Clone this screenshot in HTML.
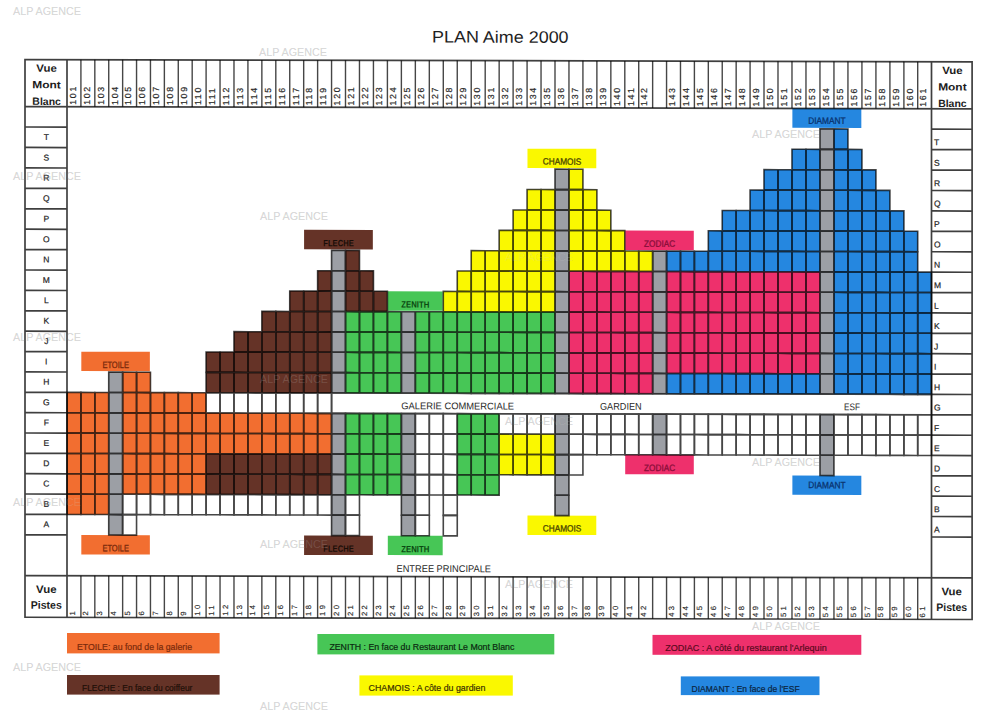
<!DOCTYPE html><html><head><meta charset="utf-8"><style>html,body{margin:0;padding:0;background:#fff;overflow:hidden;width:1000px;height:711px;}svg{display:block;}text{font-family:"Liberation Sans",sans-serif;}</style></head><body>
<svg width="1000" height="711" viewBox="0 0 1000 711">
<rect x="0" y="0" width="1000" height="711" fill="#ffffff"/>
<text x="13" y="15" font-size="10.6" fill="#dadada" textLength="68" lengthAdjust="spacingAndGlyphs">ALP AGENCE</text>
<text x="259" y="56" font-size="10.6" fill="#dadada" textLength="68" lengthAdjust="spacingAndGlyphs">ALP AGENCE</text>
<text x="13" y="180" font-size="10.6" fill="#dadada" textLength="68" lengthAdjust="spacingAndGlyphs">ALP AGENCE</text>
<text x="260" y="220" font-size="10.6" fill="#dadada" textLength="68" lengthAdjust="spacingAndGlyphs">ALP AGENCE</text>
<text x="752" y="138" font-size="10.6" fill="#dadada" textLength="68" lengthAdjust="spacingAndGlyphs">ALP AGENCE</text>
<text x="13" y="341" font-size="10.6" fill="#dadada" textLength="68" lengthAdjust="spacingAndGlyphs">ALP AGENCE</text>
<text x="260" y="383" font-size="10.6" fill="#dadada" textLength="68" lengthAdjust="spacingAndGlyphs">ALP AGENCE</text>
<text x="505" y="261" font-size="10.6" fill="#dadada" textLength="68" lengthAdjust="spacingAndGlyphs">ALP AGENCE</text>
<text x="13" y="506" font-size="10.6" fill="#dadada" textLength="68" lengthAdjust="spacingAndGlyphs">ALP AGENCE</text>
<text x="260" y="548" font-size="10.6" fill="#dadada" textLength="68" lengthAdjust="spacingAndGlyphs">ALP AGENCE</text>
<text x="752" y="466" font-size="10.6" fill="#dadada" textLength="68" lengthAdjust="spacingAndGlyphs">ALP AGENCE</text>
<text x="505" y="588" font-size="10.6" fill="#dadada" textLength="68" lengthAdjust="spacingAndGlyphs">ALP AGENCE</text>
<text x="752" y="630" font-size="10.6" fill="#dadada" textLength="68" lengthAdjust="spacingAndGlyphs">ALP AGENCE</text>
<text x="13" y="671" font-size="10.6" fill="#dadada" textLength="68" lengthAdjust="spacingAndGlyphs">ALP AGENCE</text>
<text x="260" y="710" font-size="10.6" fill="#dadada" textLength="68" lengthAdjust="spacingAndGlyphs">ALP AGENCE</text>
<text x="505" y="425" font-size="10.6" fill="#dadada" textLength="68" lengthAdjust="spacingAndGlyphs">ALP AGENCE</text>
<g transform="skewY(0.1347)">
<text x="500.3" y="41.5" font-size="16.6" fill="#1f1f1f" text-anchor="middle" textLength="136.6" lengthAdjust="spacingAndGlyphs">PLAN Aime 2000</text>
<rect x="819.96" y="126.95" width="13.99" height="20.45" fill="#9C9FA5"/>
<rect x="833.95" y="126.95" width="13.99" height="20.45" fill="#2587E0"/>
<rect x="791.98" y="147.40" width="13.99" height="20.45" fill="#2587E0"/>
<rect x="805.97" y="147.40" width="13.99" height="20.45" fill="#2587E0"/>
<rect x="819.96" y="147.40" width="13.99" height="20.45" fill="#9C9FA5"/>
<rect x="833.95" y="147.40" width="13.99" height="20.45" fill="#2587E0"/>
<rect x="847.94" y="147.40" width="13.99" height="20.45" fill="#2587E0"/>
<rect x="555.00" y="167.85" width="13.96" height="20.45" fill="#9C9FA5"/>
<rect x="568.96" y="167.85" width="13.96" height="20.45" fill="#FAF800"/>
<rect x="764.00" y="167.85" width="13.99" height="20.45" fill="#2587E0"/>
<rect x="777.99" y="167.85" width="13.99" height="20.45" fill="#2587E0"/>
<rect x="791.98" y="167.85" width="13.99" height="20.45" fill="#2587E0"/>
<rect x="805.97" y="167.85" width="13.99" height="20.45" fill="#2587E0"/>
<rect x="819.96" y="167.85" width="13.99" height="20.45" fill="#9C9FA5"/>
<rect x="833.95" y="167.85" width="13.99" height="20.45" fill="#2587E0"/>
<rect x="847.94" y="167.85" width="13.99" height="20.45" fill="#2587E0"/>
<rect x="861.93" y="167.85" width="13.99" height="20.45" fill="#2587E0"/>
<rect x="527.08" y="188.30" width="13.96" height="20.45" fill="#FAF800"/>
<rect x="541.04" y="188.30" width="13.96" height="20.45" fill="#FAF800"/>
<rect x="555.00" y="188.30" width="13.96" height="20.45" fill="#9C9FA5"/>
<rect x="568.96" y="188.30" width="13.96" height="20.45" fill="#FAF800"/>
<rect x="582.92" y="188.30" width="13.96" height="20.45" fill="#FAF800"/>
<rect x="750.08" y="188.30" width="13.92" height="20.45" fill="#2587E0"/>
<rect x="764.00" y="188.30" width="13.99" height="20.45" fill="#2587E0"/>
<rect x="777.99" y="188.30" width="13.99" height="20.45" fill="#2587E0"/>
<rect x="791.98" y="188.30" width="13.99" height="20.45" fill="#2587E0"/>
<rect x="805.97" y="188.30" width="13.99" height="20.45" fill="#2587E0"/>
<rect x="819.96" y="188.30" width="13.99" height="20.45" fill="#9C9FA5"/>
<rect x="833.95" y="188.30" width="13.99" height="20.45" fill="#2587E0"/>
<rect x="847.94" y="188.30" width="13.99" height="20.45" fill="#2587E0"/>
<rect x="861.93" y="188.30" width="13.99" height="20.45" fill="#2587E0"/>
<rect x="875.92" y="188.30" width="13.99" height="20.45" fill="#2587E0"/>
<rect x="513.12" y="208.75" width="13.96" height="20.40" fill="#FAF800"/>
<rect x="527.08" y="208.75" width="13.96" height="20.40" fill="#FAF800"/>
<rect x="541.04" y="208.75" width="13.96" height="20.40" fill="#FAF800"/>
<rect x="555.00" y="208.75" width="13.96" height="20.40" fill="#9C9FA5"/>
<rect x="568.96" y="208.75" width="13.96" height="20.40" fill="#FAF800"/>
<rect x="582.92" y="208.75" width="13.96" height="20.40" fill="#FAF800"/>
<rect x="596.88" y="208.75" width="13.96" height="20.40" fill="#FAF800"/>
<rect x="722.24" y="208.75" width="13.92" height="20.40" fill="#2587E0"/>
<rect x="736.16" y="208.75" width="13.92" height="20.40" fill="#2587E0"/>
<rect x="750.08" y="208.75" width="13.92" height="20.40" fill="#2587E0"/>
<rect x="764.00" y="208.75" width="13.99" height="20.40" fill="#2587E0"/>
<rect x="777.99" y="208.75" width="13.99" height="20.40" fill="#2587E0"/>
<rect x="791.98" y="208.75" width="13.99" height="20.40" fill="#2587E0"/>
<rect x="805.97" y="208.75" width="13.99" height="20.40" fill="#2587E0"/>
<rect x="819.96" y="208.75" width="13.99" height="20.40" fill="#9C9FA5"/>
<rect x="833.95" y="208.75" width="13.99" height="20.40" fill="#2587E0"/>
<rect x="847.94" y="208.75" width="13.99" height="20.40" fill="#2587E0"/>
<rect x="861.93" y="208.75" width="13.99" height="20.40" fill="#2587E0"/>
<rect x="875.92" y="208.75" width="13.99" height="20.40" fill="#2587E0"/>
<rect x="889.91" y="208.75" width="13.99" height="20.40" fill="#2587E0"/>
<rect x="499.16" y="229.15" width="13.96" height="20.40" fill="#FAF800"/>
<rect x="513.12" y="229.15" width="13.96" height="20.40" fill="#FAF800"/>
<rect x="527.08" y="229.15" width="13.96" height="20.40" fill="#FAF800"/>
<rect x="541.04" y="229.15" width="13.96" height="20.40" fill="#FAF800"/>
<rect x="555.00" y="229.15" width="13.96" height="20.40" fill="#9C9FA5"/>
<rect x="568.96" y="229.15" width="13.96" height="20.40" fill="#FAF800"/>
<rect x="582.92" y="229.15" width="13.96" height="20.40" fill="#FAF800"/>
<rect x="596.88" y="229.15" width="13.96" height="20.40" fill="#FAF800"/>
<rect x="610.84" y="229.15" width="13.96" height="20.40" fill="#FAF800"/>
<rect x="708.32" y="229.15" width="13.92" height="20.40" fill="#2587E0"/>
<rect x="722.24" y="229.15" width="13.92" height="20.40" fill="#2587E0"/>
<rect x="736.16" y="229.15" width="13.92" height="20.40" fill="#2587E0"/>
<rect x="750.08" y="229.15" width="13.92" height="20.40" fill="#2587E0"/>
<rect x="764.00" y="229.15" width="13.99" height="20.40" fill="#2587E0"/>
<rect x="777.99" y="229.15" width="13.99" height="20.40" fill="#2587E0"/>
<rect x="791.98" y="229.15" width="13.99" height="20.40" fill="#2587E0"/>
<rect x="805.97" y="229.15" width="13.99" height="20.40" fill="#2587E0"/>
<rect x="819.96" y="229.15" width="13.99" height="20.40" fill="#9C9FA5"/>
<rect x="833.95" y="229.15" width="13.99" height="20.40" fill="#2587E0"/>
<rect x="847.94" y="229.15" width="13.99" height="20.40" fill="#2587E0"/>
<rect x="861.93" y="229.15" width="13.99" height="20.40" fill="#2587E0"/>
<rect x="875.92" y="229.15" width="13.99" height="20.40" fill="#2587E0"/>
<rect x="889.91" y="229.15" width="13.99" height="20.40" fill="#2587E0"/>
<rect x="903.90" y="229.15" width="13.80" height="20.40" fill="#2587E0"/>
<rect x="331.56" y="249.55" width="13.94" height="20.40" fill="#9C9FA5"/>
<rect x="345.50" y="249.55" width="13.97" height="20.40" fill="#653327"/>
<rect x="471.23" y="249.55" width="13.97" height="20.40" fill="#FAF800"/>
<rect x="485.20" y="249.55" width="13.96" height="20.40" fill="#FAF800"/>
<rect x="499.16" y="249.55" width="13.96" height="20.40" fill="#FAF800"/>
<rect x="513.12" y="249.55" width="13.96" height="20.40" fill="#FAF800"/>
<rect x="527.08" y="249.55" width="13.96" height="20.40" fill="#FAF800"/>
<rect x="541.04" y="249.55" width="13.96" height="20.40" fill="#FAF800"/>
<rect x="555.00" y="249.55" width="13.96" height="20.40" fill="#9C9FA5"/>
<rect x="568.96" y="249.55" width="13.96" height="20.40" fill="#FAF800"/>
<rect x="582.92" y="249.55" width="13.96" height="20.40" fill="#FAF800"/>
<rect x="596.88" y="249.55" width="13.96" height="20.40" fill="#FAF800"/>
<rect x="610.84" y="249.55" width="13.96" height="20.40" fill="#FAF800"/>
<rect x="624.80" y="249.55" width="13.92" height="20.40" fill="#FAF800"/>
<rect x="638.72" y="249.55" width="13.92" height="20.40" fill="#FAF800"/>
<rect x="652.64" y="249.55" width="13.92" height="20.40" fill="#9C9FA5"/>
<rect x="666.56" y="249.55" width="13.92" height="20.40" fill="#2587E0"/>
<rect x="680.48" y="249.55" width="13.92" height="20.40" fill="#2587E0"/>
<rect x="694.40" y="249.55" width="13.92" height="20.40" fill="#2587E0"/>
<rect x="708.32" y="249.55" width="13.92" height="20.40" fill="#2587E0"/>
<rect x="722.24" y="249.55" width="13.92" height="20.40" fill="#2587E0"/>
<rect x="736.16" y="249.55" width="13.92" height="20.40" fill="#2587E0"/>
<rect x="750.08" y="249.55" width="13.92" height="20.40" fill="#2587E0"/>
<rect x="764.00" y="249.55" width="13.99" height="20.40" fill="#2587E0"/>
<rect x="777.99" y="249.55" width="13.99" height="20.40" fill="#2587E0"/>
<rect x="791.98" y="249.55" width="13.99" height="20.40" fill="#2587E0"/>
<rect x="805.97" y="249.55" width="13.99" height="20.40" fill="#2587E0"/>
<rect x="819.96" y="249.55" width="13.99" height="20.40" fill="#9C9FA5"/>
<rect x="833.95" y="249.55" width="13.99" height="20.40" fill="#2587E0"/>
<rect x="847.94" y="249.55" width="13.99" height="20.40" fill="#2587E0"/>
<rect x="861.93" y="249.55" width="13.99" height="20.40" fill="#2587E0"/>
<rect x="875.92" y="249.55" width="13.99" height="20.40" fill="#2587E0"/>
<rect x="889.91" y="249.55" width="13.99" height="20.40" fill="#2587E0"/>
<rect x="903.90" y="249.55" width="13.80" height="20.40" fill="#2587E0"/>
<rect x="317.62" y="269.95" width="13.94" height="20.40" fill="#653327"/>
<rect x="331.56" y="269.95" width="13.94" height="20.40" fill="#9C9FA5"/>
<rect x="345.50" y="269.95" width="13.97" height="20.40" fill="#653327"/>
<rect x="359.47" y="269.95" width="13.97" height="20.40" fill="#653327"/>
<rect x="457.26" y="269.95" width="13.97" height="20.40" fill="#FAF800"/>
<rect x="471.23" y="269.95" width="13.97" height="20.40" fill="#FAF800"/>
<rect x="485.20" y="269.95" width="13.96" height="20.40" fill="#FAF800"/>
<rect x="499.16" y="269.95" width="13.96" height="20.40" fill="#FAF800"/>
<rect x="513.12" y="269.95" width="13.96" height="20.40" fill="#FAF800"/>
<rect x="527.08" y="269.95" width="13.96" height="20.40" fill="#FAF800"/>
<rect x="541.04" y="269.95" width="13.96" height="20.40" fill="#FAF800"/>
<rect x="555.00" y="269.95" width="13.96" height="20.40" fill="#9C9FA5"/>
<rect x="568.96" y="269.95" width="13.96" height="20.40" fill="#EE306C"/>
<rect x="582.92" y="269.95" width="13.96" height="20.40" fill="#EE306C"/>
<rect x="596.88" y="269.95" width="13.96" height="20.40" fill="#EE306C"/>
<rect x="610.84" y="269.95" width="13.96" height="20.40" fill="#EE306C"/>
<rect x="624.80" y="269.95" width="13.92" height="20.40" fill="#EE306C"/>
<rect x="638.72" y="269.95" width="13.92" height="20.40" fill="#EE306C"/>
<rect x="652.64" y="269.95" width="13.92" height="20.40" fill="#9C9FA5"/>
<rect x="666.56" y="269.95" width="13.92" height="20.40" fill="#EE306C"/>
<rect x="680.48" y="269.95" width="13.92" height="20.40" fill="#EE306C"/>
<rect x="694.40" y="269.95" width="13.92" height="20.40" fill="#EE306C"/>
<rect x="708.32" y="269.95" width="13.92" height="20.40" fill="#EE306C"/>
<rect x="722.24" y="269.95" width="13.92" height="20.40" fill="#EE306C"/>
<rect x="736.16" y="269.95" width="13.92" height="20.40" fill="#EE306C"/>
<rect x="750.08" y="269.95" width="13.92" height="20.40" fill="#EE306C"/>
<rect x="764.00" y="269.95" width="13.99" height="20.40" fill="#EE306C"/>
<rect x="777.99" y="269.95" width="13.99" height="20.40" fill="#EE306C"/>
<rect x="791.98" y="269.95" width="13.99" height="20.40" fill="#EE306C"/>
<rect x="805.97" y="269.95" width="13.99" height="20.40" fill="#EE306C"/>
<rect x="819.96" y="269.95" width="13.99" height="20.40" fill="#9C9FA5"/>
<rect x="833.95" y="269.95" width="13.99" height="20.40" fill="#2587E0"/>
<rect x="847.94" y="269.95" width="13.99" height="20.40" fill="#2587E0"/>
<rect x="861.93" y="269.95" width="13.99" height="20.40" fill="#2587E0"/>
<rect x="875.92" y="269.95" width="13.99" height="20.40" fill="#2587E0"/>
<rect x="889.91" y="269.95" width="13.99" height="20.40" fill="#2587E0"/>
<rect x="903.90" y="269.95" width="13.80" height="20.40" fill="#2587E0"/>
<rect x="917.70" y="269.95" width="13.80" height="20.40" fill="#2587E0"/>
<rect x="289.74" y="290.35" width="13.94" height="20.40" fill="#653327"/>
<rect x="303.68" y="290.35" width="13.94" height="20.40" fill="#653327"/>
<rect x="317.62" y="290.35" width="13.94" height="20.40" fill="#653327"/>
<rect x="331.56" y="290.35" width="13.94" height="20.40" fill="#9C9FA5"/>
<rect x="345.50" y="290.35" width="13.97" height="20.40" fill="#653327"/>
<rect x="359.47" y="290.35" width="13.97" height="20.40" fill="#653327"/>
<rect x="373.44" y="290.35" width="13.97" height="20.40" fill="#653327"/>
<rect x="443.29" y="290.35" width="13.97" height="20.40" fill="#FAF800"/>
<rect x="457.26" y="290.35" width="13.97" height="20.40" fill="#FAF800"/>
<rect x="471.23" y="290.35" width="13.97" height="20.40" fill="#FAF800"/>
<rect x="485.20" y="290.35" width="13.96" height="20.40" fill="#FAF800"/>
<rect x="499.16" y="290.35" width="13.96" height="20.40" fill="#FAF800"/>
<rect x="513.12" y="290.35" width="13.96" height="20.40" fill="#FAF800"/>
<rect x="527.08" y="290.35" width="13.96" height="20.40" fill="#FAF800"/>
<rect x="541.04" y="290.35" width="13.96" height="20.40" fill="#FAF800"/>
<rect x="555.00" y="290.35" width="13.96" height="20.40" fill="#9C9FA5"/>
<rect x="568.96" y="290.35" width="13.96" height="20.40" fill="#EE306C"/>
<rect x="582.92" y="290.35" width="13.96" height="20.40" fill="#EE306C"/>
<rect x="596.88" y="290.35" width="13.96" height="20.40" fill="#EE306C"/>
<rect x="610.84" y="290.35" width="13.96" height="20.40" fill="#EE306C"/>
<rect x="624.80" y="290.35" width="13.92" height="20.40" fill="#EE306C"/>
<rect x="638.72" y="290.35" width="13.92" height="20.40" fill="#EE306C"/>
<rect x="652.64" y="290.35" width="13.92" height="20.40" fill="#9C9FA5"/>
<rect x="666.56" y="290.35" width="13.92" height="20.40" fill="#EE306C"/>
<rect x="680.48" y="290.35" width="13.92" height="20.40" fill="#EE306C"/>
<rect x="694.40" y="290.35" width="13.92" height="20.40" fill="#EE306C"/>
<rect x="708.32" y="290.35" width="13.92" height="20.40" fill="#EE306C"/>
<rect x="722.24" y="290.35" width="13.92" height="20.40" fill="#EE306C"/>
<rect x="736.16" y="290.35" width="13.92" height="20.40" fill="#EE306C"/>
<rect x="750.08" y="290.35" width="13.92" height="20.40" fill="#EE306C"/>
<rect x="764.00" y="290.35" width="13.99" height="20.40" fill="#EE306C"/>
<rect x="777.99" y="290.35" width="13.99" height="20.40" fill="#EE306C"/>
<rect x="791.98" y="290.35" width="13.99" height="20.40" fill="#EE306C"/>
<rect x="805.97" y="290.35" width="13.99" height="20.40" fill="#EE306C"/>
<rect x="819.96" y="290.35" width="13.99" height="20.40" fill="#9C9FA5"/>
<rect x="833.95" y="290.35" width="13.99" height="20.40" fill="#2587E0"/>
<rect x="847.94" y="290.35" width="13.99" height="20.40" fill="#2587E0"/>
<rect x="861.93" y="290.35" width="13.99" height="20.40" fill="#2587E0"/>
<rect x="875.92" y="290.35" width="13.99" height="20.40" fill="#2587E0"/>
<rect x="889.91" y="290.35" width="13.99" height="20.40" fill="#2587E0"/>
<rect x="903.90" y="290.35" width="13.80" height="20.40" fill="#2587E0"/>
<rect x="917.70" y="290.35" width="13.80" height="20.40" fill="#2587E0"/>
<rect x="261.86" y="310.75" width="13.94" height="20.37" fill="#653327"/>
<rect x="275.80" y="310.75" width="13.94" height="20.37" fill="#653327"/>
<rect x="289.74" y="310.75" width="13.94" height="20.37" fill="#653327"/>
<rect x="303.68" y="310.75" width="13.94" height="20.37" fill="#653327"/>
<rect x="317.62" y="310.75" width="13.94" height="20.37" fill="#653327"/>
<rect x="331.56" y="310.75" width="13.94" height="20.37" fill="#9C9FA5"/>
<rect x="345.50" y="310.75" width="13.97" height="20.37" fill="#47C656"/>
<rect x="359.47" y="310.75" width="13.97" height="20.37" fill="#47C656"/>
<rect x="373.44" y="310.75" width="13.97" height="20.37" fill="#47C656"/>
<rect x="387.41" y="310.75" width="13.97" height="20.37" fill="#47C656"/>
<rect x="401.38" y="310.75" width="13.97" height="20.37" fill="#9C9FA5"/>
<rect x="415.35" y="310.75" width="13.97" height="20.37" fill="#47C656"/>
<rect x="429.32" y="310.75" width="13.97" height="20.37" fill="#47C656"/>
<rect x="443.29" y="310.75" width="13.97" height="20.37" fill="#47C656"/>
<rect x="457.26" y="310.75" width="13.97" height="20.37" fill="#47C656"/>
<rect x="471.23" y="310.75" width="13.97" height="20.37" fill="#47C656"/>
<rect x="485.20" y="310.75" width="13.96" height="20.37" fill="#47C656"/>
<rect x="499.16" y="310.75" width="13.96" height="20.37" fill="#47C656"/>
<rect x="513.12" y="310.75" width="13.96" height="20.37" fill="#47C656"/>
<rect x="527.08" y="310.75" width="13.96" height="20.37" fill="#47C656"/>
<rect x="541.04" y="310.75" width="13.96" height="20.37" fill="#47C656"/>
<rect x="555.00" y="310.75" width="13.96" height="20.37" fill="#9C9FA5"/>
<rect x="568.96" y="310.75" width="13.96" height="20.37" fill="#EE306C"/>
<rect x="582.92" y="310.75" width="13.96" height="20.37" fill="#EE306C"/>
<rect x="596.88" y="310.75" width="13.96" height="20.37" fill="#EE306C"/>
<rect x="610.84" y="310.75" width="13.96" height="20.37" fill="#EE306C"/>
<rect x="624.80" y="310.75" width="13.92" height="20.37" fill="#EE306C"/>
<rect x="638.72" y="310.75" width="13.92" height="20.37" fill="#EE306C"/>
<rect x="652.64" y="310.75" width="13.92" height="20.37" fill="#9C9FA5"/>
<rect x="666.56" y="310.75" width="13.92" height="20.37" fill="#EE306C"/>
<rect x="680.48" y="310.75" width="13.92" height="20.37" fill="#EE306C"/>
<rect x="694.40" y="310.75" width="13.92" height="20.37" fill="#EE306C"/>
<rect x="708.32" y="310.75" width="13.92" height="20.37" fill="#EE306C"/>
<rect x="722.24" y="310.75" width="13.92" height="20.37" fill="#EE306C"/>
<rect x="736.16" y="310.75" width="13.92" height="20.37" fill="#EE306C"/>
<rect x="750.08" y="310.75" width="13.92" height="20.37" fill="#EE306C"/>
<rect x="764.00" y="310.75" width="13.99" height="20.37" fill="#EE306C"/>
<rect x="777.99" y="310.75" width="13.99" height="20.37" fill="#EE306C"/>
<rect x="791.98" y="310.75" width="13.99" height="20.37" fill="#EE306C"/>
<rect x="805.97" y="310.75" width="13.99" height="20.37" fill="#EE306C"/>
<rect x="819.96" y="310.75" width="13.99" height="20.37" fill="#9C9FA5"/>
<rect x="833.95" y="310.75" width="13.99" height="20.37" fill="#2587E0"/>
<rect x="847.94" y="310.75" width="13.99" height="20.37" fill="#2587E0"/>
<rect x="861.93" y="310.75" width="13.99" height="20.37" fill="#2587E0"/>
<rect x="875.92" y="310.75" width="13.99" height="20.37" fill="#2587E0"/>
<rect x="889.91" y="310.75" width="13.99" height="20.37" fill="#2587E0"/>
<rect x="903.90" y="310.75" width="13.80" height="20.37" fill="#2587E0"/>
<rect x="917.70" y="310.75" width="13.80" height="20.37" fill="#2587E0"/>
<rect x="233.98" y="331.12" width="13.94" height="20.37" fill="#653327"/>
<rect x="247.92" y="331.12" width="13.94" height="20.37" fill="#653327"/>
<rect x="261.86" y="331.12" width="13.94" height="20.37" fill="#653327"/>
<rect x="275.80" y="331.12" width="13.94" height="20.37" fill="#653327"/>
<rect x="289.74" y="331.12" width="13.94" height="20.37" fill="#653327"/>
<rect x="303.68" y="331.12" width="13.94" height="20.37" fill="#653327"/>
<rect x="317.62" y="331.12" width="13.94" height="20.37" fill="#653327"/>
<rect x="331.56" y="331.12" width="13.94" height="20.37" fill="#9C9FA5"/>
<rect x="345.50" y="331.12" width="13.97" height="20.37" fill="#47C656"/>
<rect x="359.47" y="331.12" width="13.97" height="20.37" fill="#47C656"/>
<rect x="373.44" y="331.12" width="13.97" height="20.37" fill="#47C656"/>
<rect x="387.41" y="331.12" width="13.97" height="20.37" fill="#47C656"/>
<rect x="401.38" y="331.12" width="13.97" height="20.37" fill="#9C9FA5"/>
<rect x="415.35" y="331.12" width="13.97" height="20.37" fill="#47C656"/>
<rect x="429.32" y="331.12" width="13.97" height="20.37" fill="#47C656"/>
<rect x="443.29" y="331.12" width="13.97" height="20.37" fill="#47C656"/>
<rect x="457.26" y="331.12" width="13.97" height="20.37" fill="#47C656"/>
<rect x="471.23" y="331.12" width="13.97" height="20.37" fill="#47C656"/>
<rect x="485.20" y="331.12" width="13.96" height="20.37" fill="#47C656"/>
<rect x="499.16" y="331.12" width="13.96" height="20.37" fill="#47C656"/>
<rect x="513.12" y="331.12" width="13.96" height="20.37" fill="#47C656"/>
<rect x="527.08" y="331.12" width="13.96" height="20.37" fill="#47C656"/>
<rect x="541.04" y="331.12" width="13.96" height="20.37" fill="#47C656"/>
<rect x="555.00" y="331.12" width="13.96" height="20.37" fill="#9C9FA5"/>
<rect x="568.96" y="331.12" width="13.96" height="20.37" fill="#EE306C"/>
<rect x="582.92" y="331.12" width="13.96" height="20.37" fill="#EE306C"/>
<rect x="596.88" y="331.12" width="13.96" height="20.37" fill="#EE306C"/>
<rect x="610.84" y="331.12" width="13.96" height="20.37" fill="#EE306C"/>
<rect x="624.80" y="331.12" width="13.92" height="20.37" fill="#EE306C"/>
<rect x="638.72" y="331.12" width="13.92" height="20.37" fill="#EE306C"/>
<rect x="652.64" y="331.12" width="13.92" height="20.37" fill="#9C9FA5"/>
<rect x="666.56" y="331.12" width="13.92" height="20.37" fill="#EE306C"/>
<rect x="680.48" y="331.12" width="13.92" height="20.37" fill="#EE306C"/>
<rect x="694.40" y="331.12" width="13.92" height="20.37" fill="#EE306C"/>
<rect x="708.32" y="331.12" width="13.92" height="20.37" fill="#EE306C"/>
<rect x="722.24" y="331.12" width="13.92" height="20.37" fill="#EE306C"/>
<rect x="736.16" y="331.12" width="13.92" height="20.37" fill="#EE306C"/>
<rect x="750.08" y="331.12" width="13.92" height="20.37" fill="#EE306C"/>
<rect x="764.00" y="331.12" width="13.99" height="20.37" fill="#EE306C"/>
<rect x="777.99" y="331.12" width="13.99" height="20.37" fill="#EE306C"/>
<rect x="791.98" y="331.12" width="13.99" height="20.37" fill="#EE306C"/>
<rect x="805.97" y="331.12" width="13.99" height="20.37" fill="#EE306C"/>
<rect x="819.96" y="331.12" width="13.99" height="20.37" fill="#9C9FA5"/>
<rect x="833.95" y="331.12" width="13.99" height="20.37" fill="#2587E0"/>
<rect x="847.94" y="331.12" width="13.99" height="20.37" fill="#2587E0"/>
<rect x="861.93" y="331.12" width="13.99" height="20.37" fill="#2587E0"/>
<rect x="875.92" y="331.12" width="13.99" height="20.37" fill="#2587E0"/>
<rect x="889.91" y="331.12" width="13.99" height="20.37" fill="#2587E0"/>
<rect x="903.90" y="331.12" width="13.80" height="20.37" fill="#2587E0"/>
<rect x="917.70" y="331.12" width="13.80" height="20.37" fill="#2587E0"/>
<rect x="206.10" y="351.49" width="13.94" height="20.37" fill="#653327"/>
<rect x="220.04" y="351.49" width="13.94" height="20.37" fill="#653327"/>
<rect x="233.98" y="351.49" width="13.94" height="20.37" fill="#653327"/>
<rect x="247.92" y="351.49" width="13.94" height="20.37" fill="#653327"/>
<rect x="261.86" y="351.49" width="13.94" height="20.37" fill="#653327"/>
<rect x="275.80" y="351.49" width="13.94" height="20.37" fill="#653327"/>
<rect x="289.74" y="351.49" width="13.94" height="20.37" fill="#653327"/>
<rect x="303.68" y="351.49" width="13.94" height="20.37" fill="#653327"/>
<rect x="317.62" y="351.49" width="13.94" height="20.37" fill="#653327"/>
<rect x="331.56" y="351.49" width="13.94" height="20.37" fill="#9C9FA5"/>
<rect x="345.50" y="351.49" width="13.97" height="20.37" fill="#47C656"/>
<rect x="359.47" y="351.49" width="13.97" height="20.37" fill="#47C656"/>
<rect x="373.44" y="351.49" width="13.97" height="20.37" fill="#47C656"/>
<rect x="387.41" y="351.49" width="13.97" height="20.37" fill="#47C656"/>
<rect x="401.38" y="351.49" width="13.97" height="20.37" fill="#9C9FA5"/>
<rect x="415.35" y="351.49" width="13.97" height="20.37" fill="#47C656"/>
<rect x="429.32" y="351.49" width="13.97" height="20.37" fill="#47C656"/>
<rect x="443.29" y="351.49" width="13.97" height="20.37" fill="#47C656"/>
<rect x="457.26" y="351.49" width="13.97" height="20.37" fill="#47C656"/>
<rect x="471.23" y="351.49" width="13.97" height="20.37" fill="#47C656"/>
<rect x="485.20" y="351.49" width="13.96" height="20.37" fill="#47C656"/>
<rect x="499.16" y="351.49" width="13.96" height="20.37" fill="#47C656"/>
<rect x="513.12" y="351.49" width="13.96" height="20.37" fill="#47C656"/>
<rect x="527.08" y="351.49" width="13.96" height="20.37" fill="#47C656"/>
<rect x="541.04" y="351.49" width="13.96" height="20.37" fill="#47C656"/>
<rect x="555.00" y="351.49" width="13.96" height="20.37" fill="#9C9FA5"/>
<rect x="568.96" y="351.49" width="13.96" height="20.37" fill="#EE306C"/>
<rect x="582.92" y="351.49" width="13.96" height="20.37" fill="#EE306C"/>
<rect x="596.88" y="351.49" width="13.96" height="20.37" fill="#EE306C"/>
<rect x="610.84" y="351.49" width="13.96" height="20.37" fill="#EE306C"/>
<rect x="624.80" y="351.49" width="13.92" height="20.37" fill="#EE306C"/>
<rect x="638.72" y="351.49" width="13.92" height="20.37" fill="#EE306C"/>
<rect x="652.64" y="351.49" width="13.92" height="20.37" fill="#9C9FA5"/>
<rect x="666.56" y="351.49" width="13.92" height="20.37" fill="#EE306C"/>
<rect x="680.48" y="351.49" width="13.92" height="20.37" fill="#EE306C"/>
<rect x="694.40" y="351.49" width="13.92" height="20.37" fill="#EE306C"/>
<rect x="708.32" y="351.49" width="13.92" height="20.37" fill="#EE306C"/>
<rect x="722.24" y="351.49" width="13.92" height="20.37" fill="#EE306C"/>
<rect x="736.16" y="351.49" width="13.92" height="20.37" fill="#EE306C"/>
<rect x="750.08" y="351.49" width="13.92" height="20.37" fill="#EE306C"/>
<rect x="764.00" y="351.49" width="13.99" height="20.37" fill="#EE306C"/>
<rect x="777.99" y="351.49" width="13.99" height="20.37" fill="#EE306C"/>
<rect x="791.98" y="351.49" width="13.99" height="20.37" fill="#EE306C"/>
<rect x="805.97" y="351.49" width="13.99" height="20.37" fill="#EE306C"/>
<rect x="819.96" y="351.49" width="13.99" height="20.37" fill="#9C9FA5"/>
<rect x="833.95" y="351.49" width="13.99" height="20.37" fill="#2587E0"/>
<rect x="847.94" y="351.49" width="13.99" height="20.37" fill="#2587E0"/>
<rect x="861.93" y="351.49" width="13.99" height="20.37" fill="#2587E0"/>
<rect x="875.92" y="351.49" width="13.99" height="20.37" fill="#2587E0"/>
<rect x="889.91" y="351.49" width="13.99" height="20.37" fill="#2587E0"/>
<rect x="903.90" y="351.49" width="13.80" height="20.37" fill="#2587E0"/>
<rect x="917.70" y="351.49" width="13.80" height="20.37" fill="#2587E0"/>
<rect x="108.73" y="371.86" width="13.91" height="20.37" fill="#9C9FA5"/>
<rect x="122.64" y="371.86" width="13.91" height="20.37" fill="#F26E30"/>
<rect x="136.55" y="371.86" width="13.91" height="20.37" fill="#F26E30"/>
<rect x="206.10" y="371.86" width="13.94" height="20.37" fill="#653327"/>
<rect x="220.04" y="371.86" width="13.94" height="20.37" fill="#653327"/>
<rect x="233.98" y="371.86" width="13.94" height="20.37" fill="#653327"/>
<rect x="247.92" y="371.86" width="13.94" height="20.37" fill="#653327"/>
<rect x="261.86" y="371.86" width="13.94" height="20.37" fill="#653327"/>
<rect x="275.80" y="371.86" width="13.94" height="20.37" fill="#653327"/>
<rect x="289.74" y="371.86" width="13.94" height="20.37" fill="#653327"/>
<rect x="303.68" y="371.86" width="13.94" height="20.37" fill="#653327"/>
<rect x="317.62" y="371.86" width="13.94" height="20.37" fill="#653327"/>
<rect x="331.56" y="371.86" width="13.94" height="20.37" fill="#9C9FA5"/>
<rect x="345.50" y="371.86" width="13.97" height="20.37" fill="#47C656"/>
<rect x="359.47" y="371.86" width="13.97" height="20.37" fill="#47C656"/>
<rect x="373.44" y="371.86" width="13.97" height="20.37" fill="#47C656"/>
<rect x="387.41" y="371.86" width="13.97" height="20.37" fill="#47C656"/>
<rect x="401.38" y="371.86" width="13.97" height="20.37" fill="#9C9FA5"/>
<rect x="415.35" y="371.86" width="13.97" height="20.37" fill="#47C656"/>
<rect x="429.32" y="371.86" width="13.97" height="20.37" fill="#47C656"/>
<rect x="443.29" y="371.86" width="13.97" height="20.37" fill="#47C656"/>
<rect x="457.26" y="371.86" width="13.97" height="20.37" fill="#47C656"/>
<rect x="471.23" y="371.86" width="13.97" height="20.37" fill="#47C656"/>
<rect x="485.20" y="371.86" width="13.96" height="20.37" fill="#47C656"/>
<rect x="499.16" y="371.86" width="13.96" height="20.37" fill="#47C656"/>
<rect x="513.12" y="371.86" width="13.96" height="20.37" fill="#47C656"/>
<rect x="527.08" y="371.86" width="13.96" height="20.37" fill="#47C656"/>
<rect x="541.04" y="371.86" width="13.96" height="20.37" fill="#47C656"/>
<rect x="555.00" y="371.86" width="13.96" height="20.37" fill="#9C9FA5"/>
<rect x="568.96" y="371.86" width="13.96" height="20.37" fill="#EE306C"/>
<rect x="582.92" y="371.86" width="13.96" height="20.37" fill="#EE306C"/>
<rect x="596.88" y="371.86" width="13.96" height="20.37" fill="#EE306C"/>
<rect x="610.84" y="371.86" width="13.96" height="20.37" fill="#EE306C"/>
<rect x="624.80" y="371.86" width="13.92" height="20.37" fill="#EE306C"/>
<rect x="638.72" y="371.86" width="13.92" height="20.37" fill="#EE306C"/>
<rect x="652.64" y="371.86" width="13.92" height="20.37" fill="#9C9FA5"/>
<rect x="666.56" y="371.86" width="13.92" height="20.37" fill="#2587E0"/>
<rect x="680.48" y="371.86" width="13.92" height="20.37" fill="#2587E0"/>
<rect x="694.40" y="371.86" width="13.92" height="20.37" fill="#2587E0"/>
<rect x="708.32" y="371.86" width="13.92" height="20.37" fill="#2587E0"/>
<rect x="722.24" y="371.86" width="13.92" height="20.37" fill="#2587E0"/>
<rect x="736.16" y="371.86" width="13.92" height="20.37" fill="#2587E0"/>
<rect x="750.08" y="371.86" width="13.92" height="20.37" fill="#2587E0"/>
<rect x="764.00" y="371.86" width="13.99" height="20.37" fill="#2587E0"/>
<rect x="777.99" y="371.86" width="13.99" height="20.37" fill="#2587E0"/>
<rect x="791.98" y="371.86" width="13.99" height="20.37" fill="#2587E0"/>
<rect x="805.97" y="371.86" width="13.99" height="20.37" fill="#2587E0"/>
<rect x="819.96" y="371.86" width="13.99" height="20.37" fill="#9C9FA5"/>
<rect x="833.95" y="371.86" width="13.99" height="20.37" fill="#2587E0"/>
<rect x="847.94" y="371.86" width="13.99" height="20.37" fill="#2587E0"/>
<rect x="861.93" y="371.86" width="13.99" height="20.37" fill="#2587E0"/>
<rect x="875.92" y="371.86" width="13.99" height="20.37" fill="#2587E0"/>
<rect x="889.91" y="371.86" width="13.99" height="20.37" fill="#2587E0"/>
<rect x="903.90" y="371.86" width="13.80" height="20.37" fill="#2587E0"/>
<rect x="917.70" y="371.86" width="13.80" height="20.37" fill="#2587E0"/>
<rect x="67.00" y="392.23" width="13.91" height="20.37" fill="#F26E30"/>
<rect x="80.91" y="392.23" width="13.91" height="20.37" fill="#F26E30"/>
<rect x="94.82" y="392.23" width="13.91" height="20.37" fill="#F26E30"/>
<rect x="108.73" y="392.23" width="13.91" height="20.37" fill="#9C9FA5"/>
<rect x="122.64" y="392.23" width="13.91" height="20.37" fill="#F26E30"/>
<rect x="136.55" y="392.23" width="13.91" height="20.37" fill="#F26E30"/>
<rect x="150.46" y="392.23" width="13.91" height="20.37" fill="#F26E30"/>
<rect x="164.37" y="392.23" width="13.91" height="20.37" fill="#F26E30"/>
<rect x="178.28" y="392.23" width="13.91" height="20.37" fill="#F26E30"/>
<rect x="192.19" y="392.23" width="13.91" height="20.37" fill="#F26E30"/>
<rect x="67.00" y="412.60" width="13.91" height="20.34" fill="#F26E30"/>
<rect x="80.91" y="412.60" width="13.91" height="20.34" fill="#F26E30"/>
<rect x="94.82" y="412.60" width="13.91" height="20.34" fill="#F26E30"/>
<rect x="108.73" y="412.60" width="13.91" height="20.34" fill="#9C9FA5"/>
<rect x="122.64" y="412.60" width="13.91" height="20.34" fill="#F26E30"/>
<rect x="136.55" y="412.60" width="13.91" height="20.34" fill="#F26E30"/>
<rect x="150.46" y="412.60" width="13.91" height="20.34" fill="#F26E30"/>
<rect x="164.37" y="412.60" width="13.91" height="20.34" fill="#F26E30"/>
<rect x="178.28" y="412.60" width="13.91" height="20.34" fill="#F26E30"/>
<rect x="192.19" y="412.60" width="13.91" height="20.34" fill="#F26E30"/>
<rect x="206.10" y="412.60" width="13.94" height="20.34" fill="#F26E30"/>
<rect x="220.04" y="412.60" width="13.94" height="20.34" fill="#F26E30"/>
<rect x="233.98" y="412.60" width="13.94" height="20.34" fill="#F26E30"/>
<rect x="247.92" y="412.60" width="13.94" height="20.34" fill="#F26E30"/>
<rect x="261.86" y="412.60" width="13.94" height="20.34" fill="#F26E30"/>
<rect x="275.80" y="412.60" width="13.94" height="20.34" fill="#F26E30"/>
<rect x="289.74" y="412.60" width="13.94" height="20.34" fill="#F26E30"/>
<rect x="303.68" y="412.60" width="13.94" height="20.34" fill="#F26E30"/>
<rect x="317.62" y="412.60" width="13.94" height="20.34" fill="#F26E30"/>
<rect x="331.56" y="412.60" width="13.94" height="20.34" fill="#9C9FA5"/>
<rect x="345.50" y="412.60" width="13.97" height="20.34" fill="#47C656"/>
<rect x="359.47" y="412.60" width="13.97" height="20.34" fill="#47C656"/>
<rect x="373.44" y="412.60" width="13.97" height="20.34" fill="#47C656"/>
<rect x="387.41" y="412.60" width="13.97" height="20.34" fill="#47C656"/>
<rect x="401.38" y="412.60" width="13.97" height="20.34" fill="#9C9FA5"/>
<rect x="457.26" y="412.60" width="13.97" height="20.34" fill="#47C656"/>
<rect x="471.23" y="412.60" width="13.97" height="20.34" fill="#47C656"/>
<rect x="485.20" y="412.60" width="13.96" height="20.34" fill="#47C656"/>
<rect x="555.00" y="412.60" width="13.96" height="20.34" fill="#9C9FA5"/>
<rect x="652.64" y="412.60" width="13.92" height="20.34" fill="#9C9FA5"/>
<rect x="819.96" y="412.60" width="13.99" height="20.34" fill="#9C9FA5"/>
<rect x="67.00" y="432.94" width="13.91" height="20.34" fill="#F26E30"/>
<rect x="80.91" y="432.94" width="13.91" height="20.34" fill="#F26E30"/>
<rect x="94.82" y="432.94" width="13.91" height="20.34" fill="#F26E30"/>
<rect x="108.73" y="432.94" width="13.91" height="20.34" fill="#9C9FA5"/>
<rect x="122.64" y="432.94" width="13.91" height="20.34" fill="#F26E30"/>
<rect x="136.55" y="432.94" width="13.91" height="20.34" fill="#F26E30"/>
<rect x="150.46" y="432.94" width="13.91" height="20.34" fill="#F26E30"/>
<rect x="164.37" y="432.94" width="13.91" height="20.34" fill="#F26E30"/>
<rect x="178.28" y="432.94" width="13.91" height="20.34" fill="#F26E30"/>
<rect x="192.19" y="432.94" width="13.91" height="20.34" fill="#F26E30"/>
<rect x="206.10" y="432.94" width="13.94" height="20.34" fill="#F26E30"/>
<rect x="220.04" y="432.94" width="13.94" height="20.34" fill="#F26E30"/>
<rect x="233.98" y="432.94" width="13.94" height="20.34" fill="#F26E30"/>
<rect x="247.92" y="432.94" width="13.94" height="20.34" fill="#F26E30"/>
<rect x="261.86" y="432.94" width="13.94" height="20.34" fill="#F26E30"/>
<rect x="275.80" y="432.94" width="13.94" height="20.34" fill="#F26E30"/>
<rect x="289.74" y="432.94" width="13.94" height="20.34" fill="#F26E30"/>
<rect x="303.68" y="432.94" width="13.94" height="20.34" fill="#F26E30"/>
<rect x="317.62" y="432.94" width="13.94" height="20.34" fill="#F26E30"/>
<rect x="331.56" y="432.94" width="13.94" height="20.34" fill="#9C9FA5"/>
<rect x="345.50" y="432.94" width="13.97" height="20.34" fill="#47C656"/>
<rect x="359.47" y="432.94" width="13.97" height="20.34" fill="#47C656"/>
<rect x="373.44" y="432.94" width="13.97" height="20.34" fill="#47C656"/>
<rect x="387.41" y="432.94" width="13.97" height="20.34" fill="#47C656"/>
<rect x="401.38" y="432.94" width="13.97" height="20.34" fill="#9C9FA5"/>
<rect x="457.26" y="432.94" width="13.97" height="20.34" fill="#47C656"/>
<rect x="471.23" y="432.94" width="13.97" height="20.34" fill="#47C656"/>
<rect x="485.20" y="432.94" width="13.96" height="20.34" fill="#47C656"/>
<rect x="499.16" y="432.94" width="13.96" height="20.34" fill="#FAF800"/>
<rect x="513.12" y="432.94" width="13.96" height="20.34" fill="#FAF800"/>
<rect x="527.08" y="432.94" width="13.96" height="20.34" fill="#FAF800"/>
<rect x="541.04" y="432.94" width="13.96" height="20.34" fill="#FAF800"/>
<rect x="555.00" y="432.94" width="13.96" height="20.34" fill="#9C9FA5"/>
<rect x="652.64" y="432.94" width="13.92" height="20.34" fill="#9C9FA5"/>
<rect x="819.96" y="432.94" width="13.99" height="20.34" fill="#9C9FA5"/>
<rect x="67.00" y="453.28" width="13.91" height="20.34" fill="#F26E30"/>
<rect x="80.91" y="453.28" width="13.91" height="20.34" fill="#F26E30"/>
<rect x="94.82" y="453.28" width="13.91" height="20.34" fill="#F26E30"/>
<rect x="108.73" y="453.28" width="13.91" height="20.34" fill="#9C9FA5"/>
<rect x="122.64" y="453.28" width="13.91" height="20.34" fill="#F26E30"/>
<rect x="136.55" y="453.28" width="13.91" height="20.34" fill="#F26E30"/>
<rect x="150.46" y="453.28" width="13.91" height="20.34" fill="#F26E30"/>
<rect x="164.37" y="453.28" width="13.91" height="20.34" fill="#F26E30"/>
<rect x="178.28" y="453.28" width="13.91" height="20.34" fill="#F26E30"/>
<rect x="192.19" y="453.28" width="13.91" height="20.34" fill="#F26E30"/>
<rect x="206.10" y="453.28" width="13.94" height="20.34" fill="#653327"/>
<rect x="220.04" y="453.28" width="13.94" height="20.34" fill="#653327"/>
<rect x="233.98" y="453.28" width="13.94" height="20.34" fill="#653327"/>
<rect x="247.92" y="453.28" width="13.94" height="20.34" fill="#653327"/>
<rect x="261.86" y="453.28" width="13.94" height="20.34" fill="#653327"/>
<rect x="275.80" y="453.28" width="13.94" height="20.34" fill="#653327"/>
<rect x="289.74" y="453.28" width="13.94" height="20.34" fill="#653327"/>
<rect x="303.68" y="453.28" width="13.94" height="20.34" fill="#653327"/>
<rect x="317.62" y="453.28" width="13.94" height="20.34" fill="#653327"/>
<rect x="331.56" y="453.28" width="13.94" height="20.34" fill="#9C9FA5"/>
<rect x="345.50" y="453.28" width="13.97" height="20.34" fill="#47C656"/>
<rect x="359.47" y="453.28" width="13.97" height="20.34" fill="#47C656"/>
<rect x="373.44" y="453.28" width="13.97" height="20.34" fill="#47C656"/>
<rect x="387.41" y="453.28" width="13.97" height="20.34" fill="#47C656"/>
<rect x="401.38" y="453.28" width="13.97" height="20.34" fill="#9C9FA5"/>
<rect x="457.26" y="453.28" width="13.97" height="20.34" fill="#47C656"/>
<rect x="471.23" y="453.28" width="13.97" height="20.34" fill="#47C656"/>
<rect x="485.20" y="453.28" width="13.96" height="20.34" fill="#47C656"/>
<rect x="499.16" y="453.28" width="13.96" height="20.34" fill="#FAF800"/>
<rect x="513.12" y="453.28" width="13.96" height="20.34" fill="#FAF800"/>
<rect x="527.08" y="453.28" width="13.96" height="20.34" fill="#FAF800"/>
<rect x="541.04" y="453.28" width="13.96" height="20.34" fill="#FAF800"/>
<rect x="555.00" y="453.28" width="13.96" height="20.34" fill="#9C9FA5"/>
<rect x="819.96" y="453.28" width="13.99" height="20.34" fill="#9C9FA5"/>
<rect x="67.00" y="473.62" width="13.91" height="20.34" fill="#F26E30"/>
<rect x="80.91" y="473.62" width="13.91" height="20.34" fill="#F26E30"/>
<rect x="94.82" y="473.62" width="13.91" height="20.34" fill="#F26E30"/>
<rect x="108.73" y="473.62" width="13.91" height="20.34" fill="#9C9FA5"/>
<rect x="122.64" y="473.62" width="13.91" height="20.34" fill="#F26E30"/>
<rect x="136.55" y="473.62" width="13.91" height="20.34" fill="#F26E30"/>
<rect x="150.46" y="473.62" width="13.91" height="20.34" fill="#F26E30"/>
<rect x="164.37" y="473.62" width="13.91" height="20.34" fill="#F26E30"/>
<rect x="178.28" y="473.62" width="13.91" height="20.34" fill="#F26E30"/>
<rect x="192.19" y="473.62" width="13.91" height="20.34" fill="#F26E30"/>
<rect x="206.10" y="473.62" width="13.94" height="20.34" fill="#653327"/>
<rect x="220.04" y="473.62" width="13.94" height="20.34" fill="#653327"/>
<rect x="233.98" y="473.62" width="13.94" height="20.34" fill="#653327"/>
<rect x="247.92" y="473.62" width="13.94" height="20.34" fill="#653327"/>
<rect x="261.86" y="473.62" width="13.94" height="20.34" fill="#653327"/>
<rect x="275.80" y="473.62" width="13.94" height="20.34" fill="#653327"/>
<rect x="289.74" y="473.62" width="13.94" height="20.34" fill="#653327"/>
<rect x="303.68" y="473.62" width="13.94" height="20.34" fill="#653327"/>
<rect x="317.62" y="473.62" width="13.94" height="20.34" fill="#653327"/>
<rect x="331.56" y="473.62" width="13.94" height="20.34" fill="#9C9FA5"/>
<rect x="345.50" y="473.62" width="13.97" height="20.34" fill="#47C656"/>
<rect x="359.47" y="473.62" width="13.97" height="20.34" fill="#47C656"/>
<rect x="373.44" y="473.62" width="13.97" height="20.34" fill="#47C656"/>
<rect x="387.41" y="473.62" width="13.97" height="20.34" fill="#47C656"/>
<rect x="401.38" y="473.62" width="13.97" height="20.34" fill="#9C9FA5"/>
<rect x="457.26" y="473.62" width="13.97" height="20.34" fill="#47C656"/>
<rect x="471.23" y="473.62" width="13.97" height="20.34" fill="#47C656"/>
<rect x="485.20" y="473.62" width="13.96" height="20.34" fill="#47C656"/>
<rect x="555.00" y="473.62" width="13.96" height="20.34" fill="#9C9FA5"/>
<rect x="67.00" y="493.96" width="13.91" height="20.34" fill="#F26E30"/>
<rect x="80.91" y="493.96" width="13.91" height="20.34" fill="#F26E30"/>
<rect x="94.82" y="493.96" width="13.91" height="20.34" fill="#F26E30"/>
<rect x="108.73" y="493.96" width="13.91" height="20.34" fill="#9C9FA5"/>
<rect x="331.56" y="493.96" width="13.94" height="20.34" fill="#9C9FA5"/>
<rect x="401.38" y="493.96" width="13.97" height="20.34" fill="#9C9FA5"/>
<rect x="555.00" y="493.96" width="13.96" height="20.34" fill="#9C9FA5"/>
<rect x="108.73" y="514.30" width="13.91" height="20.50" fill="#9C9FA5"/>
<rect x="331.56" y="514.30" width="13.94" height="20.50" fill="#9C9FA5"/>
<rect x="401.38" y="514.30" width="13.97" height="20.50" fill="#9C9FA5"/>
<rect x="81.31" y="351.49" width="68.55" height="19.39" fill="#F26E30"/>
<rect x="81.31" y="534.80" width="68.55" height="19.39" fill="#F26E30"/>
<rect x="304.08" y="229.15" width="68.76" height="19.39" fill="#653327"/>
<rect x="304.08" y="534.80" width="68.76" height="19.39" fill="#653327"/>
<rect x="387.81" y="290.35" width="54.88" height="19.39" fill="#47C656"/>
<rect x="387.81" y="534.80" width="54.88" height="19.39" fill="#47C656"/>
<rect x="527.48" y="147.40" width="68.80" height="19.39" fill="#FAF800"/>
<rect x="527.48" y="514.30" width="68.80" height="19.39" fill="#FAF800"/>
<rect x="625.20" y="229.15" width="68.60" height="19.39" fill="#EE306C"/>
<rect x="625.20" y="453.28" width="68.60" height="19.39" fill="#EE306C"/>
<rect x="792.38" y="106.50" width="68.95" height="19.39" fill="#2587E0"/>
<rect x="792.38" y="473.62" width="68.95" height="19.39" fill="#2587E0"/>
<g fill="none" stroke="#000" stroke-width="1.6" opacity="0.72">
<rect x="331.56" y="392.23" width="599.94" height="20.39"/>
<rect x="819.96" y="126.95" width="13.99" height="20.45"/>
<rect x="833.95" y="126.95" width="13.99" height="20.45"/>
<rect x="791.98" y="147.40" width="13.99" height="20.45"/>
<rect x="805.97" y="147.40" width="13.99" height="20.45"/>
<rect x="819.96" y="147.40" width="13.99" height="20.45"/>
<rect x="833.95" y="147.40" width="13.99" height="20.45"/>
<rect x="847.94" y="147.40" width="13.99" height="20.45"/>
<rect x="555.00" y="167.85" width="13.96" height="20.45"/>
<rect x="568.96" y="167.85" width="13.96" height="20.45"/>
<rect x="764.00" y="167.85" width="13.99" height="20.45"/>
<rect x="777.99" y="167.85" width="13.99" height="20.45"/>
<rect x="791.98" y="167.85" width="13.99" height="20.45"/>
<rect x="805.97" y="167.85" width="13.99" height="20.45"/>
<rect x="819.96" y="167.85" width="13.99" height="20.45"/>
<rect x="833.95" y="167.85" width="13.99" height="20.45"/>
<rect x="847.94" y="167.85" width="13.99" height="20.45"/>
<rect x="861.93" y="167.85" width="13.99" height="20.45"/>
<rect x="527.08" y="188.30" width="13.96" height="20.45"/>
<rect x="541.04" y="188.30" width="13.96" height="20.45"/>
<rect x="555.00" y="188.30" width="13.96" height="20.45"/>
<rect x="568.96" y="188.30" width="13.96" height="20.45"/>
<rect x="582.92" y="188.30" width="13.96" height="20.45"/>
<rect x="750.08" y="188.30" width="13.92" height="20.45"/>
<rect x="764.00" y="188.30" width="13.99" height="20.45"/>
<rect x="777.99" y="188.30" width="13.99" height="20.45"/>
<rect x="791.98" y="188.30" width="13.99" height="20.45"/>
<rect x="805.97" y="188.30" width="13.99" height="20.45"/>
<rect x="819.96" y="188.30" width="13.99" height="20.45"/>
<rect x="833.95" y="188.30" width="13.99" height="20.45"/>
<rect x="847.94" y="188.30" width="13.99" height="20.45"/>
<rect x="861.93" y="188.30" width="13.99" height="20.45"/>
<rect x="875.92" y="188.30" width="13.99" height="20.45"/>
<rect x="513.12" y="208.75" width="13.96" height="20.40"/>
<rect x="527.08" y="208.75" width="13.96" height="20.40"/>
<rect x="541.04" y="208.75" width="13.96" height="20.40"/>
<rect x="555.00" y="208.75" width="13.96" height="20.40"/>
<rect x="568.96" y="208.75" width="13.96" height="20.40"/>
<rect x="582.92" y="208.75" width="13.96" height="20.40"/>
<rect x="596.88" y="208.75" width="13.96" height="20.40"/>
<rect x="722.24" y="208.75" width="13.92" height="20.40"/>
<rect x="736.16" y="208.75" width="13.92" height="20.40"/>
<rect x="750.08" y="208.75" width="13.92" height="20.40"/>
<rect x="764.00" y="208.75" width="13.99" height="20.40"/>
<rect x="777.99" y="208.75" width="13.99" height="20.40"/>
<rect x="791.98" y="208.75" width="13.99" height="20.40"/>
<rect x="805.97" y="208.75" width="13.99" height="20.40"/>
<rect x="819.96" y="208.75" width="13.99" height="20.40"/>
<rect x="833.95" y="208.75" width="13.99" height="20.40"/>
<rect x="847.94" y="208.75" width="13.99" height="20.40"/>
<rect x="861.93" y="208.75" width="13.99" height="20.40"/>
<rect x="875.92" y="208.75" width="13.99" height="20.40"/>
<rect x="889.91" y="208.75" width="13.99" height="20.40"/>
<rect x="499.16" y="229.15" width="13.96" height="20.40"/>
<rect x="513.12" y="229.15" width="13.96" height="20.40"/>
<rect x="527.08" y="229.15" width="13.96" height="20.40"/>
<rect x="541.04" y="229.15" width="13.96" height="20.40"/>
<rect x="555.00" y="229.15" width="13.96" height="20.40"/>
<rect x="568.96" y="229.15" width="13.96" height="20.40"/>
<rect x="582.92" y="229.15" width="13.96" height="20.40"/>
<rect x="596.88" y="229.15" width="13.96" height="20.40"/>
<rect x="610.84" y="229.15" width="13.96" height="20.40"/>
<rect x="708.32" y="229.15" width="13.92" height="20.40"/>
<rect x="722.24" y="229.15" width="13.92" height="20.40"/>
<rect x="736.16" y="229.15" width="13.92" height="20.40"/>
<rect x="750.08" y="229.15" width="13.92" height="20.40"/>
<rect x="764.00" y="229.15" width="13.99" height="20.40"/>
<rect x="777.99" y="229.15" width="13.99" height="20.40"/>
<rect x="791.98" y="229.15" width="13.99" height="20.40"/>
<rect x="805.97" y="229.15" width="13.99" height="20.40"/>
<rect x="819.96" y="229.15" width="13.99" height="20.40"/>
<rect x="833.95" y="229.15" width="13.99" height="20.40"/>
<rect x="847.94" y="229.15" width="13.99" height="20.40"/>
<rect x="861.93" y="229.15" width="13.99" height="20.40"/>
<rect x="875.92" y="229.15" width="13.99" height="20.40"/>
<rect x="889.91" y="229.15" width="13.99" height="20.40"/>
<rect x="903.90" y="229.15" width="13.80" height="20.40"/>
<rect x="331.56" y="249.55" width="13.94" height="20.40"/>
<rect x="345.50" y="249.55" width="13.97" height="20.40"/>
<rect x="471.23" y="249.55" width="13.97" height="20.40"/>
<rect x="485.20" y="249.55" width="13.96" height="20.40"/>
<rect x="499.16" y="249.55" width="13.96" height="20.40"/>
<rect x="513.12" y="249.55" width="13.96" height="20.40"/>
<rect x="527.08" y="249.55" width="13.96" height="20.40"/>
<rect x="541.04" y="249.55" width="13.96" height="20.40"/>
<rect x="555.00" y="249.55" width="13.96" height="20.40"/>
<rect x="568.96" y="249.55" width="13.96" height="20.40"/>
<rect x="582.92" y="249.55" width="13.96" height="20.40"/>
<rect x="596.88" y="249.55" width="13.96" height="20.40"/>
<rect x="610.84" y="249.55" width="13.96" height="20.40"/>
<rect x="624.80" y="249.55" width="13.92" height="20.40"/>
<rect x="638.72" y="249.55" width="13.92" height="20.40"/>
<rect x="652.64" y="249.55" width="13.92" height="20.40"/>
<rect x="666.56" y="249.55" width="13.92" height="20.40"/>
<rect x="680.48" y="249.55" width="13.92" height="20.40"/>
<rect x="694.40" y="249.55" width="13.92" height="20.40"/>
<rect x="708.32" y="249.55" width="13.92" height="20.40"/>
<rect x="722.24" y="249.55" width="13.92" height="20.40"/>
<rect x="736.16" y="249.55" width="13.92" height="20.40"/>
<rect x="750.08" y="249.55" width="13.92" height="20.40"/>
<rect x="764.00" y="249.55" width="13.99" height="20.40"/>
<rect x="777.99" y="249.55" width="13.99" height="20.40"/>
<rect x="791.98" y="249.55" width="13.99" height="20.40"/>
<rect x="805.97" y="249.55" width="13.99" height="20.40"/>
<rect x="819.96" y="249.55" width="13.99" height="20.40"/>
<rect x="833.95" y="249.55" width="13.99" height="20.40"/>
<rect x="847.94" y="249.55" width="13.99" height="20.40"/>
<rect x="861.93" y="249.55" width="13.99" height="20.40"/>
<rect x="875.92" y="249.55" width="13.99" height="20.40"/>
<rect x="889.91" y="249.55" width="13.99" height="20.40"/>
<rect x="903.90" y="249.55" width="13.80" height="20.40"/>
<rect x="317.62" y="269.95" width="13.94" height="20.40"/>
<rect x="331.56" y="269.95" width="13.94" height="20.40"/>
<rect x="345.50" y="269.95" width="13.97" height="20.40"/>
<rect x="359.47" y="269.95" width="13.97" height="20.40"/>
<rect x="457.26" y="269.95" width="13.97" height="20.40"/>
<rect x="471.23" y="269.95" width="13.97" height="20.40"/>
<rect x="485.20" y="269.95" width="13.96" height="20.40"/>
<rect x="499.16" y="269.95" width="13.96" height="20.40"/>
<rect x="513.12" y="269.95" width="13.96" height="20.40"/>
<rect x="527.08" y="269.95" width="13.96" height="20.40"/>
<rect x="541.04" y="269.95" width="13.96" height="20.40"/>
<rect x="555.00" y="269.95" width="13.96" height="20.40"/>
<rect x="568.96" y="269.95" width="13.96" height="20.40"/>
<rect x="582.92" y="269.95" width="13.96" height="20.40"/>
<rect x="596.88" y="269.95" width="13.96" height="20.40"/>
<rect x="610.84" y="269.95" width="13.96" height="20.40"/>
<rect x="624.80" y="269.95" width="13.92" height="20.40"/>
<rect x="638.72" y="269.95" width="13.92" height="20.40"/>
<rect x="652.64" y="269.95" width="13.92" height="20.40"/>
<rect x="666.56" y="269.95" width="13.92" height="20.40"/>
<rect x="680.48" y="269.95" width="13.92" height="20.40"/>
<rect x="694.40" y="269.95" width="13.92" height="20.40"/>
<rect x="708.32" y="269.95" width="13.92" height="20.40"/>
<rect x="722.24" y="269.95" width="13.92" height="20.40"/>
<rect x="736.16" y="269.95" width="13.92" height="20.40"/>
<rect x="750.08" y="269.95" width="13.92" height="20.40"/>
<rect x="764.00" y="269.95" width="13.99" height="20.40"/>
<rect x="777.99" y="269.95" width="13.99" height="20.40"/>
<rect x="791.98" y="269.95" width="13.99" height="20.40"/>
<rect x="805.97" y="269.95" width="13.99" height="20.40"/>
<rect x="819.96" y="269.95" width="13.99" height="20.40"/>
<rect x="833.95" y="269.95" width="13.99" height="20.40"/>
<rect x="847.94" y="269.95" width="13.99" height="20.40"/>
<rect x="861.93" y="269.95" width="13.99" height="20.40"/>
<rect x="875.92" y="269.95" width="13.99" height="20.40"/>
<rect x="889.91" y="269.95" width="13.99" height="20.40"/>
<rect x="903.90" y="269.95" width="13.80" height="20.40"/>
<rect x="917.70" y="269.95" width="13.80" height="20.40"/>
<rect x="289.74" y="290.35" width="13.94" height="20.40"/>
<rect x="303.68" y="290.35" width="13.94" height="20.40"/>
<rect x="317.62" y="290.35" width="13.94" height="20.40"/>
<rect x="331.56" y="290.35" width="13.94" height="20.40"/>
<rect x="345.50" y="290.35" width="13.97" height="20.40"/>
<rect x="359.47" y="290.35" width="13.97" height="20.40"/>
<rect x="373.44" y="290.35" width="13.97" height="20.40"/>
<rect x="443.29" y="290.35" width="13.97" height="20.40"/>
<rect x="457.26" y="290.35" width="13.97" height="20.40"/>
<rect x="471.23" y="290.35" width="13.97" height="20.40"/>
<rect x="485.20" y="290.35" width="13.96" height="20.40"/>
<rect x="499.16" y="290.35" width="13.96" height="20.40"/>
<rect x="513.12" y="290.35" width="13.96" height="20.40"/>
<rect x="527.08" y="290.35" width="13.96" height="20.40"/>
<rect x="541.04" y="290.35" width="13.96" height="20.40"/>
<rect x="555.00" y="290.35" width="13.96" height="20.40"/>
<rect x="568.96" y="290.35" width="13.96" height="20.40"/>
<rect x="582.92" y="290.35" width="13.96" height="20.40"/>
<rect x="596.88" y="290.35" width="13.96" height="20.40"/>
<rect x="610.84" y="290.35" width="13.96" height="20.40"/>
<rect x="624.80" y="290.35" width="13.92" height="20.40"/>
<rect x="638.72" y="290.35" width="13.92" height="20.40"/>
<rect x="652.64" y="290.35" width="13.92" height="20.40"/>
<rect x="666.56" y="290.35" width="13.92" height="20.40"/>
<rect x="680.48" y="290.35" width="13.92" height="20.40"/>
<rect x="694.40" y="290.35" width="13.92" height="20.40"/>
<rect x="708.32" y="290.35" width="13.92" height="20.40"/>
<rect x="722.24" y="290.35" width="13.92" height="20.40"/>
<rect x="736.16" y="290.35" width="13.92" height="20.40"/>
<rect x="750.08" y="290.35" width="13.92" height="20.40"/>
<rect x="764.00" y="290.35" width="13.99" height="20.40"/>
<rect x="777.99" y="290.35" width="13.99" height="20.40"/>
<rect x="791.98" y="290.35" width="13.99" height="20.40"/>
<rect x="805.97" y="290.35" width="13.99" height="20.40"/>
<rect x="819.96" y="290.35" width="13.99" height="20.40"/>
<rect x="833.95" y="290.35" width="13.99" height="20.40"/>
<rect x="847.94" y="290.35" width="13.99" height="20.40"/>
<rect x="861.93" y="290.35" width="13.99" height="20.40"/>
<rect x="875.92" y="290.35" width="13.99" height="20.40"/>
<rect x="889.91" y="290.35" width="13.99" height="20.40"/>
<rect x="903.90" y="290.35" width="13.80" height="20.40"/>
<rect x="917.70" y="290.35" width="13.80" height="20.40"/>
<rect x="261.86" y="310.75" width="13.94" height="20.37"/>
<rect x="275.80" y="310.75" width="13.94" height="20.37"/>
<rect x="289.74" y="310.75" width="13.94" height="20.37"/>
<rect x="303.68" y="310.75" width="13.94" height="20.37"/>
<rect x="317.62" y="310.75" width="13.94" height="20.37"/>
<rect x="331.56" y="310.75" width="13.94" height="20.37"/>
<rect x="345.50" y="310.75" width="13.97" height="20.37"/>
<rect x="359.47" y="310.75" width="13.97" height="20.37"/>
<rect x="373.44" y="310.75" width="13.97" height="20.37"/>
<rect x="387.41" y="310.75" width="13.97" height="20.37"/>
<rect x="401.38" y="310.75" width="13.97" height="20.37"/>
<rect x="415.35" y="310.75" width="13.97" height="20.37"/>
<rect x="429.32" y="310.75" width="13.97" height="20.37"/>
<rect x="443.29" y="310.75" width="13.97" height="20.37"/>
<rect x="457.26" y="310.75" width="13.97" height="20.37"/>
<rect x="471.23" y="310.75" width="13.97" height="20.37"/>
<rect x="485.20" y="310.75" width="13.96" height="20.37"/>
<rect x="499.16" y="310.75" width="13.96" height="20.37"/>
<rect x="513.12" y="310.75" width="13.96" height="20.37"/>
<rect x="527.08" y="310.75" width="13.96" height="20.37"/>
<rect x="541.04" y="310.75" width="13.96" height="20.37"/>
<rect x="555.00" y="310.75" width="13.96" height="20.37"/>
<rect x="568.96" y="310.75" width="13.96" height="20.37"/>
<rect x="582.92" y="310.75" width="13.96" height="20.37"/>
<rect x="596.88" y="310.75" width="13.96" height="20.37"/>
<rect x="610.84" y="310.75" width="13.96" height="20.37"/>
<rect x="624.80" y="310.75" width="13.92" height="20.37"/>
<rect x="638.72" y="310.75" width="13.92" height="20.37"/>
<rect x="652.64" y="310.75" width="13.92" height="20.37"/>
<rect x="666.56" y="310.75" width="13.92" height="20.37"/>
<rect x="680.48" y="310.75" width="13.92" height="20.37"/>
<rect x="694.40" y="310.75" width="13.92" height="20.37"/>
<rect x="708.32" y="310.75" width="13.92" height="20.37"/>
<rect x="722.24" y="310.75" width="13.92" height="20.37"/>
<rect x="736.16" y="310.75" width="13.92" height="20.37"/>
<rect x="750.08" y="310.75" width="13.92" height="20.37"/>
<rect x="764.00" y="310.75" width="13.99" height="20.37"/>
<rect x="777.99" y="310.75" width="13.99" height="20.37"/>
<rect x="791.98" y="310.75" width="13.99" height="20.37"/>
<rect x="805.97" y="310.75" width="13.99" height="20.37"/>
<rect x="819.96" y="310.75" width="13.99" height="20.37"/>
<rect x="833.95" y="310.75" width="13.99" height="20.37"/>
<rect x="847.94" y="310.75" width="13.99" height="20.37"/>
<rect x="861.93" y="310.75" width="13.99" height="20.37"/>
<rect x="875.92" y="310.75" width="13.99" height="20.37"/>
<rect x="889.91" y="310.75" width="13.99" height="20.37"/>
<rect x="903.90" y="310.75" width="13.80" height="20.37"/>
<rect x="917.70" y="310.75" width="13.80" height="20.37"/>
<rect x="233.98" y="331.12" width="13.94" height="20.37"/>
<rect x="247.92" y="331.12" width="13.94" height="20.37"/>
<rect x="261.86" y="331.12" width="13.94" height="20.37"/>
<rect x="275.80" y="331.12" width="13.94" height="20.37"/>
<rect x="289.74" y="331.12" width="13.94" height="20.37"/>
<rect x="303.68" y="331.12" width="13.94" height="20.37"/>
<rect x="317.62" y="331.12" width="13.94" height="20.37"/>
<rect x="331.56" y="331.12" width="13.94" height="20.37"/>
<rect x="345.50" y="331.12" width="13.97" height="20.37"/>
<rect x="359.47" y="331.12" width="13.97" height="20.37"/>
<rect x="373.44" y="331.12" width="13.97" height="20.37"/>
<rect x="387.41" y="331.12" width="13.97" height="20.37"/>
<rect x="401.38" y="331.12" width="13.97" height="20.37"/>
<rect x="415.35" y="331.12" width="13.97" height="20.37"/>
<rect x="429.32" y="331.12" width="13.97" height="20.37"/>
<rect x="443.29" y="331.12" width="13.97" height="20.37"/>
<rect x="457.26" y="331.12" width="13.97" height="20.37"/>
<rect x="471.23" y="331.12" width="13.97" height="20.37"/>
<rect x="485.20" y="331.12" width="13.96" height="20.37"/>
<rect x="499.16" y="331.12" width="13.96" height="20.37"/>
<rect x="513.12" y="331.12" width="13.96" height="20.37"/>
<rect x="527.08" y="331.12" width="13.96" height="20.37"/>
<rect x="541.04" y="331.12" width="13.96" height="20.37"/>
<rect x="555.00" y="331.12" width="13.96" height="20.37"/>
<rect x="568.96" y="331.12" width="13.96" height="20.37"/>
<rect x="582.92" y="331.12" width="13.96" height="20.37"/>
<rect x="596.88" y="331.12" width="13.96" height="20.37"/>
<rect x="610.84" y="331.12" width="13.96" height="20.37"/>
<rect x="624.80" y="331.12" width="13.92" height="20.37"/>
<rect x="638.72" y="331.12" width="13.92" height="20.37"/>
<rect x="652.64" y="331.12" width="13.92" height="20.37"/>
<rect x="666.56" y="331.12" width="13.92" height="20.37"/>
<rect x="680.48" y="331.12" width="13.92" height="20.37"/>
<rect x="694.40" y="331.12" width="13.92" height="20.37"/>
<rect x="708.32" y="331.12" width="13.92" height="20.37"/>
<rect x="722.24" y="331.12" width="13.92" height="20.37"/>
<rect x="736.16" y="331.12" width="13.92" height="20.37"/>
<rect x="750.08" y="331.12" width="13.92" height="20.37"/>
<rect x="764.00" y="331.12" width="13.99" height="20.37"/>
<rect x="777.99" y="331.12" width="13.99" height="20.37"/>
<rect x="791.98" y="331.12" width="13.99" height="20.37"/>
<rect x="805.97" y="331.12" width="13.99" height="20.37"/>
<rect x="819.96" y="331.12" width="13.99" height="20.37"/>
<rect x="833.95" y="331.12" width="13.99" height="20.37"/>
<rect x="847.94" y="331.12" width="13.99" height="20.37"/>
<rect x="861.93" y="331.12" width="13.99" height="20.37"/>
<rect x="875.92" y="331.12" width="13.99" height="20.37"/>
<rect x="889.91" y="331.12" width="13.99" height="20.37"/>
<rect x="903.90" y="331.12" width="13.80" height="20.37"/>
<rect x="917.70" y="331.12" width="13.80" height="20.37"/>
<rect x="206.10" y="351.49" width="13.94" height="20.37"/>
<rect x="220.04" y="351.49" width="13.94" height="20.37"/>
<rect x="233.98" y="351.49" width="13.94" height="20.37"/>
<rect x="247.92" y="351.49" width="13.94" height="20.37"/>
<rect x="261.86" y="351.49" width="13.94" height="20.37"/>
<rect x="275.80" y="351.49" width="13.94" height="20.37"/>
<rect x="289.74" y="351.49" width="13.94" height="20.37"/>
<rect x="303.68" y="351.49" width="13.94" height="20.37"/>
<rect x="317.62" y="351.49" width="13.94" height="20.37"/>
<rect x="331.56" y="351.49" width="13.94" height="20.37"/>
<rect x="345.50" y="351.49" width="13.97" height="20.37"/>
<rect x="359.47" y="351.49" width="13.97" height="20.37"/>
<rect x="373.44" y="351.49" width="13.97" height="20.37"/>
<rect x="387.41" y="351.49" width="13.97" height="20.37"/>
<rect x="401.38" y="351.49" width="13.97" height="20.37"/>
<rect x="415.35" y="351.49" width="13.97" height="20.37"/>
<rect x="429.32" y="351.49" width="13.97" height="20.37"/>
<rect x="443.29" y="351.49" width="13.97" height="20.37"/>
<rect x="457.26" y="351.49" width="13.97" height="20.37"/>
<rect x="471.23" y="351.49" width="13.97" height="20.37"/>
<rect x="485.20" y="351.49" width="13.96" height="20.37"/>
<rect x="499.16" y="351.49" width="13.96" height="20.37"/>
<rect x="513.12" y="351.49" width="13.96" height="20.37"/>
<rect x="527.08" y="351.49" width="13.96" height="20.37"/>
<rect x="541.04" y="351.49" width="13.96" height="20.37"/>
<rect x="555.00" y="351.49" width="13.96" height="20.37"/>
<rect x="568.96" y="351.49" width="13.96" height="20.37"/>
<rect x="582.92" y="351.49" width="13.96" height="20.37"/>
<rect x="596.88" y="351.49" width="13.96" height="20.37"/>
<rect x="610.84" y="351.49" width="13.96" height="20.37"/>
<rect x="624.80" y="351.49" width="13.92" height="20.37"/>
<rect x="638.72" y="351.49" width="13.92" height="20.37"/>
<rect x="652.64" y="351.49" width="13.92" height="20.37"/>
<rect x="666.56" y="351.49" width="13.92" height="20.37"/>
<rect x="680.48" y="351.49" width="13.92" height="20.37"/>
<rect x="694.40" y="351.49" width="13.92" height="20.37"/>
<rect x="708.32" y="351.49" width="13.92" height="20.37"/>
<rect x="722.24" y="351.49" width="13.92" height="20.37"/>
<rect x="736.16" y="351.49" width="13.92" height="20.37"/>
<rect x="750.08" y="351.49" width="13.92" height="20.37"/>
<rect x="764.00" y="351.49" width="13.99" height="20.37"/>
<rect x="777.99" y="351.49" width="13.99" height="20.37"/>
<rect x="791.98" y="351.49" width="13.99" height="20.37"/>
<rect x="805.97" y="351.49" width="13.99" height="20.37"/>
<rect x="819.96" y="351.49" width="13.99" height="20.37"/>
<rect x="833.95" y="351.49" width="13.99" height="20.37"/>
<rect x="847.94" y="351.49" width="13.99" height="20.37"/>
<rect x="861.93" y="351.49" width="13.99" height="20.37"/>
<rect x="875.92" y="351.49" width="13.99" height="20.37"/>
<rect x="889.91" y="351.49" width="13.99" height="20.37"/>
<rect x="903.90" y="351.49" width="13.80" height="20.37"/>
<rect x="917.70" y="351.49" width="13.80" height="20.37"/>
<rect x="108.73" y="371.86" width="13.91" height="20.37"/>
<rect x="122.64" y="371.86" width="13.91" height="20.37"/>
<rect x="136.55" y="371.86" width="13.91" height="20.37"/>
<rect x="206.10" y="371.86" width="13.94" height="20.37"/>
<rect x="220.04" y="371.86" width="13.94" height="20.37"/>
<rect x="233.98" y="371.86" width="13.94" height="20.37"/>
<rect x="247.92" y="371.86" width="13.94" height="20.37"/>
<rect x="261.86" y="371.86" width="13.94" height="20.37"/>
<rect x="275.80" y="371.86" width="13.94" height="20.37"/>
<rect x="289.74" y="371.86" width="13.94" height="20.37"/>
<rect x="303.68" y="371.86" width="13.94" height="20.37"/>
<rect x="317.62" y="371.86" width="13.94" height="20.37"/>
<rect x="331.56" y="371.86" width="13.94" height="20.37"/>
<rect x="345.50" y="371.86" width="13.97" height="20.37"/>
<rect x="359.47" y="371.86" width="13.97" height="20.37"/>
<rect x="373.44" y="371.86" width="13.97" height="20.37"/>
<rect x="387.41" y="371.86" width="13.97" height="20.37"/>
<rect x="401.38" y="371.86" width="13.97" height="20.37"/>
<rect x="415.35" y="371.86" width="13.97" height="20.37"/>
<rect x="429.32" y="371.86" width="13.97" height="20.37"/>
<rect x="443.29" y="371.86" width="13.97" height="20.37"/>
<rect x="457.26" y="371.86" width="13.97" height="20.37"/>
<rect x="471.23" y="371.86" width="13.97" height="20.37"/>
<rect x="485.20" y="371.86" width="13.96" height="20.37"/>
<rect x="499.16" y="371.86" width="13.96" height="20.37"/>
<rect x="513.12" y="371.86" width="13.96" height="20.37"/>
<rect x="527.08" y="371.86" width="13.96" height="20.37"/>
<rect x="541.04" y="371.86" width="13.96" height="20.37"/>
<rect x="555.00" y="371.86" width="13.96" height="20.37"/>
<rect x="568.96" y="371.86" width="13.96" height="20.37"/>
<rect x="582.92" y="371.86" width="13.96" height="20.37"/>
<rect x="596.88" y="371.86" width="13.96" height="20.37"/>
<rect x="610.84" y="371.86" width="13.96" height="20.37"/>
<rect x="624.80" y="371.86" width="13.92" height="20.37"/>
<rect x="638.72" y="371.86" width="13.92" height="20.37"/>
<rect x="652.64" y="371.86" width="13.92" height="20.37"/>
<rect x="666.56" y="371.86" width="13.92" height="20.37"/>
<rect x="680.48" y="371.86" width="13.92" height="20.37"/>
<rect x="694.40" y="371.86" width="13.92" height="20.37"/>
<rect x="708.32" y="371.86" width="13.92" height="20.37"/>
<rect x="722.24" y="371.86" width="13.92" height="20.37"/>
<rect x="736.16" y="371.86" width="13.92" height="20.37"/>
<rect x="750.08" y="371.86" width="13.92" height="20.37"/>
<rect x="764.00" y="371.86" width="13.99" height="20.37"/>
<rect x="777.99" y="371.86" width="13.99" height="20.37"/>
<rect x="791.98" y="371.86" width="13.99" height="20.37"/>
<rect x="805.97" y="371.86" width="13.99" height="20.37"/>
<rect x="819.96" y="371.86" width="13.99" height="20.37"/>
<rect x="833.95" y="371.86" width="13.99" height="20.37"/>
<rect x="847.94" y="371.86" width="13.99" height="20.37"/>
<rect x="861.93" y="371.86" width="13.99" height="20.37"/>
<rect x="875.92" y="371.86" width="13.99" height="20.37"/>
<rect x="889.91" y="371.86" width="13.99" height="20.37"/>
<rect x="903.90" y="371.86" width="13.80" height="20.37"/>
<rect x="917.70" y="371.86" width="13.80" height="20.37"/>
<rect x="67.00" y="392.23" width="13.91" height="20.37"/>
<rect x="80.91" y="392.23" width="13.91" height="20.37"/>
<rect x="94.82" y="392.23" width="13.91" height="20.37"/>
<rect x="108.73" y="392.23" width="13.91" height="20.37"/>
<rect x="122.64" y="392.23" width="13.91" height="20.37"/>
<rect x="136.55" y="392.23" width="13.91" height="20.37"/>
<rect x="150.46" y="392.23" width="13.91" height="20.37"/>
<rect x="164.37" y="392.23" width="13.91" height="20.37"/>
<rect x="178.28" y="392.23" width="13.91" height="20.37"/>
<rect x="192.19" y="392.23" width="13.91" height="20.37"/>
<rect x="206.10" y="392.23" width="13.94" height="20.37"/>
<rect x="220.04" y="392.23" width="13.94" height="20.37"/>
<rect x="233.98" y="392.23" width="13.94" height="20.37"/>
<rect x="247.92" y="392.23" width="13.94" height="20.37"/>
<rect x="261.86" y="392.23" width="13.94" height="20.37"/>
<rect x="275.80" y="392.23" width="13.94" height="20.37"/>
<rect x="289.74" y="392.23" width="13.94" height="20.37"/>
<rect x="303.68" y="392.23" width="13.94" height="20.37"/>
<rect x="317.62" y="392.23" width="13.94" height="20.37"/>
<rect x="67.00" y="412.60" width="13.91" height="20.34"/>
<rect x="80.91" y="412.60" width="13.91" height="20.34"/>
<rect x="94.82" y="412.60" width="13.91" height="20.34"/>
<rect x="108.73" y="412.60" width="13.91" height="20.34"/>
<rect x="122.64" y="412.60" width="13.91" height="20.34"/>
<rect x="136.55" y="412.60" width="13.91" height="20.34"/>
<rect x="150.46" y="412.60" width="13.91" height="20.34"/>
<rect x="164.37" y="412.60" width="13.91" height="20.34"/>
<rect x="178.28" y="412.60" width="13.91" height="20.34"/>
<rect x="192.19" y="412.60" width="13.91" height="20.34"/>
<rect x="206.10" y="412.60" width="13.94" height="20.34"/>
<rect x="220.04" y="412.60" width="13.94" height="20.34"/>
<rect x="233.98" y="412.60" width="13.94" height="20.34"/>
<rect x="247.92" y="412.60" width="13.94" height="20.34"/>
<rect x="261.86" y="412.60" width="13.94" height="20.34"/>
<rect x="275.80" y="412.60" width="13.94" height="20.34"/>
<rect x="289.74" y="412.60" width="13.94" height="20.34"/>
<rect x="303.68" y="412.60" width="13.94" height="20.34"/>
<rect x="317.62" y="412.60" width="13.94" height="20.34"/>
<rect x="331.56" y="412.60" width="13.94" height="20.34"/>
<rect x="345.50" y="412.60" width="13.97" height="20.34"/>
<rect x="359.47" y="412.60" width="13.97" height="20.34"/>
<rect x="373.44" y="412.60" width="13.97" height="20.34"/>
<rect x="387.41" y="412.60" width="13.97" height="20.34"/>
<rect x="401.38" y="412.60" width="13.97" height="20.34"/>
<rect x="415.35" y="412.60" width="13.97" height="20.34"/>
<rect x="429.32" y="412.60" width="13.97" height="20.34"/>
<rect x="443.29" y="412.60" width="13.97" height="20.34"/>
<rect x="457.26" y="412.60" width="13.97" height="20.34"/>
<rect x="471.23" y="412.60" width="13.97" height="20.34"/>
<rect x="485.20" y="412.60" width="13.96" height="20.34"/>
<rect x="499.16" y="412.60" width="13.96" height="20.34"/>
<rect x="513.12" y="412.60" width="13.96" height="20.34"/>
<rect x="527.08" y="412.60" width="13.96" height="20.34"/>
<rect x="541.04" y="412.60" width="13.96" height="20.34"/>
<rect x="555.00" y="412.60" width="13.96" height="20.34"/>
<rect x="568.96" y="412.60" width="13.96" height="20.34"/>
<rect x="582.92" y="412.60" width="13.96" height="20.34"/>
<rect x="596.88" y="412.60" width="13.96" height="20.34"/>
<rect x="610.84" y="412.60" width="13.96" height="20.34"/>
<rect x="624.80" y="412.60" width="13.92" height="20.34"/>
<rect x="638.72" y="412.60" width="13.92" height="20.34"/>
<rect x="652.64" y="412.60" width="13.92" height="20.34"/>
<rect x="666.56" y="412.60" width="13.92" height="20.34"/>
<rect x="680.48" y="412.60" width="13.92" height="20.34"/>
<rect x="694.40" y="412.60" width="13.92" height="20.34"/>
<rect x="708.32" y="412.60" width="13.92" height="20.34"/>
<rect x="722.24" y="412.60" width="13.92" height="20.34"/>
<rect x="736.16" y="412.60" width="13.92" height="20.34"/>
<rect x="750.08" y="412.60" width="13.92" height="20.34"/>
<rect x="764.00" y="412.60" width="13.99" height="20.34"/>
<rect x="777.99" y="412.60" width="13.99" height="20.34"/>
<rect x="791.98" y="412.60" width="13.99" height="20.34"/>
<rect x="805.97" y="412.60" width="13.99" height="20.34"/>
<rect x="819.96" y="412.60" width="13.99" height="20.34"/>
<rect x="833.95" y="412.60" width="13.99" height="20.34"/>
<rect x="847.94" y="412.60" width="13.99" height="20.34"/>
<rect x="861.93" y="412.60" width="13.99" height="20.34"/>
<rect x="875.92" y="412.60" width="13.99" height="20.34"/>
<rect x="889.91" y="412.60" width="13.99" height="20.34"/>
<rect x="903.90" y="412.60" width="13.80" height="20.34"/>
<rect x="917.70" y="412.60" width="13.80" height="20.34"/>
<rect x="67.00" y="432.94" width="13.91" height="20.34"/>
<rect x="80.91" y="432.94" width="13.91" height="20.34"/>
<rect x="94.82" y="432.94" width="13.91" height="20.34"/>
<rect x="108.73" y="432.94" width="13.91" height="20.34"/>
<rect x="122.64" y="432.94" width="13.91" height="20.34"/>
<rect x="136.55" y="432.94" width="13.91" height="20.34"/>
<rect x="150.46" y="432.94" width="13.91" height="20.34"/>
<rect x="164.37" y="432.94" width="13.91" height="20.34"/>
<rect x="178.28" y="432.94" width="13.91" height="20.34"/>
<rect x="192.19" y="432.94" width="13.91" height="20.34"/>
<rect x="206.10" y="432.94" width="13.94" height="20.34"/>
<rect x="220.04" y="432.94" width="13.94" height="20.34"/>
<rect x="233.98" y="432.94" width="13.94" height="20.34"/>
<rect x="247.92" y="432.94" width="13.94" height="20.34"/>
<rect x="261.86" y="432.94" width="13.94" height="20.34"/>
<rect x="275.80" y="432.94" width="13.94" height="20.34"/>
<rect x="289.74" y="432.94" width="13.94" height="20.34"/>
<rect x="303.68" y="432.94" width="13.94" height="20.34"/>
<rect x="317.62" y="432.94" width="13.94" height="20.34"/>
<rect x="331.56" y="432.94" width="13.94" height="20.34"/>
<rect x="345.50" y="432.94" width="13.97" height="20.34"/>
<rect x="359.47" y="432.94" width="13.97" height="20.34"/>
<rect x="373.44" y="432.94" width="13.97" height="20.34"/>
<rect x="387.41" y="432.94" width="13.97" height="20.34"/>
<rect x="401.38" y="432.94" width="13.97" height="20.34"/>
<rect x="415.35" y="432.94" width="13.97" height="20.34"/>
<rect x="429.32" y="432.94" width="13.97" height="20.34"/>
<rect x="443.29" y="432.94" width="13.97" height="20.34"/>
<rect x="457.26" y="432.94" width="13.97" height="20.34"/>
<rect x="471.23" y="432.94" width="13.97" height="20.34"/>
<rect x="485.20" y="432.94" width="13.96" height="20.34"/>
<rect x="499.16" y="432.94" width="13.96" height="20.34"/>
<rect x="513.12" y="432.94" width="13.96" height="20.34"/>
<rect x="527.08" y="432.94" width="13.96" height="20.34"/>
<rect x="541.04" y="432.94" width="13.96" height="20.34"/>
<rect x="555.00" y="432.94" width="13.96" height="20.34"/>
<rect x="568.96" y="432.94" width="13.96" height="20.34"/>
<rect x="582.92" y="432.94" width="13.96" height="20.34"/>
<rect x="596.88" y="432.94" width="13.96" height="20.34"/>
<rect x="610.84" y="432.94" width="13.96" height="20.34"/>
<rect x="624.80" y="432.94" width="13.92" height="20.34"/>
<rect x="638.72" y="432.94" width="13.92" height="20.34"/>
<rect x="652.64" y="432.94" width="13.92" height="20.34"/>
<rect x="666.56" y="432.94" width="13.92" height="20.34"/>
<rect x="680.48" y="432.94" width="13.92" height="20.34"/>
<rect x="694.40" y="432.94" width="13.92" height="20.34"/>
<rect x="708.32" y="432.94" width="13.92" height="20.34"/>
<rect x="722.24" y="432.94" width="13.92" height="20.34"/>
<rect x="736.16" y="432.94" width="13.92" height="20.34"/>
<rect x="750.08" y="432.94" width="13.92" height="20.34"/>
<rect x="764.00" y="432.94" width="13.99" height="20.34"/>
<rect x="777.99" y="432.94" width="13.99" height="20.34"/>
<rect x="791.98" y="432.94" width="13.99" height="20.34"/>
<rect x="805.97" y="432.94" width="13.99" height="20.34"/>
<rect x="819.96" y="432.94" width="13.99" height="20.34"/>
<rect x="833.95" y="432.94" width="13.99" height="20.34"/>
<rect x="847.94" y="432.94" width="13.99" height="20.34"/>
<rect x="861.93" y="432.94" width="13.99" height="20.34"/>
<rect x="875.92" y="432.94" width="13.99" height="20.34"/>
<rect x="889.91" y="432.94" width="13.99" height="20.34"/>
<rect x="903.90" y="432.94" width="13.80" height="20.34"/>
<rect x="917.70" y="432.94" width="13.80" height="20.34"/>
<rect x="67.00" y="453.28" width="13.91" height="20.34"/>
<rect x="80.91" y="453.28" width="13.91" height="20.34"/>
<rect x="94.82" y="453.28" width="13.91" height="20.34"/>
<rect x="108.73" y="453.28" width="13.91" height="20.34"/>
<rect x="122.64" y="453.28" width="13.91" height="20.34"/>
<rect x="136.55" y="453.28" width="13.91" height="20.34"/>
<rect x="150.46" y="453.28" width="13.91" height="20.34"/>
<rect x="164.37" y="453.28" width="13.91" height="20.34"/>
<rect x="178.28" y="453.28" width="13.91" height="20.34"/>
<rect x="192.19" y="453.28" width="13.91" height="20.34"/>
<rect x="206.10" y="453.28" width="13.94" height="20.34"/>
<rect x="220.04" y="453.28" width="13.94" height="20.34"/>
<rect x="233.98" y="453.28" width="13.94" height="20.34"/>
<rect x="247.92" y="453.28" width="13.94" height="20.34"/>
<rect x="261.86" y="453.28" width="13.94" height="20.34"/>
<rect x="275.80" y="453.28" width="13.94" height="20.34"/>
<rect x="289.74" y="453.28" width="13.94" height="20.34"/>
<rect x="303.68" y="453.28" width="13.94" height="20.34"/>
<rect x="317.62" y="453.28" width="13.94" height="20.34"/>
<rect x="331.56" y="453.28" width="13.94" height="20.34"/>
<rect x="345.50" y="453.28" width="13.97" height="20.34"/>
<rect x="359.47" y="453.28" width="13.97" height="20.34"/>
<rect x="373.44" y="453.28" width="13.97" height="20.34"/>
<rect x="387.41" y="453.28" width="13.97" height="20.34"/>
<rect x="401.38" y="453.28" width="13.97" height="20.34"/>
<rect x="415.35" y="453.28" width="13.97" height="20.34"/>
<rect x="429.32" y="453.28" width="13.97" height="20.34"/>
<rect x="443.29" y="453.28" width="13.97" height="20.34"/>
<rect x="457.26" y="453.28" width="13.97" height="20.34"/>
<rect x="471.23" y="453.28" width="13.97" height="20.34"/>
<rect x="485.20" y="453.28" width="13.96" height="20.34"/>
<rect x="499.16" y="453.28" width="13.96" height="20.34"/>
<rect x="513.12" y="453.28" width="13.96" height="20.34"/>
<rect x="527.08" y="453.28" width="13.96" height="20.34"/>
<rect x="541.04" y="453.28" width="13.96" height="20.34"/>
<rect x="555.00" y="453.28" width="13.96" height="20.34"/>
<rect x="568.96" y="453.28" width="13.96" height="20.34"/>
<rect x="819.96" y="453.28" width="13.99" height="20.34"/>
<rect x="67.00" y="473.62" width="13.91" height="20.34"/>
<rect x="80.91" y="473.62" width="13.91" height="20.34"/>
<rect x="94.82" y="473.62" width="13.91" height="20.34"/>
<rect x="108.73" y="473.62" width="13.91" height="20.34"/>
<rect x="122.64" y="473.62" width="13.91" height="20.34"/>
<rect x="136.55" y="473.62" width="13.91" height="20.34"/>
<rect x="150.46" y="473.62" width="13.91" height="20.34"/>
<rect x="164.37" y="473.62" width="13.91" height="20.34"/>
<rect x="178.28" y="473.62" width="13.91" height="20.34"/>
<rect x="192.19" y="473.62" width="13.91" height="20.34"/>
<rect x="206.10" y="473.62" width="13.94" height="20.34"/>
<rect x="220.04" y="473.62" width="13.94" height="20.34"/>
<rect x="233.98" y="473.62" width="13.94" height="20.34"/>
<rect x="247.92" y="473.62" width="13.94" height="20.34"/>
<rect x="261.86" y="473.62" width="13.94" height="20.34"/>
<rect x="275.80" y="473.62" width="13.94" height="20.34"/>
<rect x="289.74" y="473.62" width="13.94" height="20.34"/>
<rect x="303.68" y="473.62" width="13.94" height="20.34"/>
<rect x="317.62" y="473.62" width="13.94" height="20.34"/>
<rect x="331.56" y="473.62" width="13.94" height="20.34"/>
<rect x="345.50" y="473.62" width="13.97" height="20.34"/>
<rect x="359.47" y="473.62" width="13.97" height="20.34"/>
<rect x="373.44" y="473.62" width="13.97" height="20.34"/>
<rect x="387.41" y="473.62" width="13.97" height="20.34"/>
<rect x="401.38" y="473.62" width="13.97" height="20.34"/>
<rect x="415.35" y="473.62" width="13.97" height="20.34"/>
<rect x="429.32" y="473.62" width="13.97" height="20.34"/>
<rect x="443.29" y="473.62" width="13.97" height="20.34"/>
<rect x="457.26" y="473.62" width="13.97" height="20.34"/>
<rect x="471.23" y="473.62" width="13.97" height="20.34"/>
<rect x="485.20" y="473.62" width="13.96" height="20.34"/>
<rect x="555.00" y="473.62" width="13.96" height="20.34"/>
<rect x="67.00" y="493.96" width="13.91" height="20.34"/>
<rect x="80.91" y="493.96" width="13.91" height="20.34"/>
<rect x="94.82" y="493.96" width="13.91" height="20.34"/>
<rect x="108.73" y="493.96" width="13.91" height="20.34"/>
<rect x="122.64" y="493.96" width="13.91" height="20.34"/>
<rect x="136.55" y="493.96" width="13.91" height="20.34"/>
<rect x="150.46" y="493.96" width="13.91" height="20.34"/>
<rect x="164.37" y="493.96" width="13.91" height="20.34"/>
<rect x="178.28" y="493.96" width="13.91" height="20.34"/>
<rect x="192.19" y="493.96" width="13.91" height="20.34"/>
<rect x="206.10" y="493.96" width="13.94" height="20.34"/>
<rect x="220.04" y="493.96" width="13.94" height="20.34"/>
<rect x="233.98" y="493.96" width="13.94" height="20.34"/>
<rect x="247.92" y="493.96" width="13.94" height="20.34"/>
<rect x="261.86" y="493.96" width="13.94" height="20.34"/>
<rect x="275.80" y="493.96" width="13.94" height="20.34"/>
<rect x="289.74" y="493.96" width="13.94" height="20.34"/>
<rect x="303.68" y="493.96" width="13.94" height="20.34"/>
<rect x="317.62" y="493.96" width="13.94" height="20.34"/>
<rect x="331.56" y="493.96" width="13.94" height="20.34"/>
<rect x="345.50" y="493.96" width="13.97" height="20.34"/>
<rect x="401.38" y="493.96" width="13.97" height="20.34"/>
<rect x="415.35" y="493.96" width="13.97" height="20.34"/>
<rect x="443.29" y="493.96" width="13.97" height="20.34"/>
<rect x="555.00" y="493.96" width="13.96" height="20.34"/>
<rect x="108.73" y="514.30" width="13.91" height="20.50"/>
<rect x="122.64" y="514.30" width="13.91" height="20.50"/>
<rect x="331.56" y="514.30" width="13.94" height="20.50"/>
<rect x="345.50" y="514.30" width="13.97" height="20.50"/>
<rect x="401.38" y="514.30" width="13.97" height="20.50"/>
<rect x="415.35" y="514.30" width="13.97" height="20.50"/>
<rect x="443.29" y="514.30" width="13.97" height="20.50"/>
</g>
<text x="115.68" y="367.69" font-size="9.2" stroke="#7a2a0c" stroke-width="0.3" fill="#7a2a0c" text-anchor="middle" textLength="26.5" lengthAdjust="spacingAndGlyphs">ETOILE</text>
<text x="115.68" y="551.00" font-size="9.2" stroke="#7a2a0c" stroke-width="0.3" fill="#7a2a0c" text-anchor="middle" textLength="26.5" lengthAdjust="spacingAndGlyphs">ETOILE</text>
<text x="338.56" y="245.45" font-size="9.2" font-weight="bold" fill="#1a0e08" text-anchor="middle" textLength="30.5" lengthAdjust="spacingAndGlyphs">FLECHE</text>
<text x="338.56" y="550.90" font-size="9.2" font-weight="bold" fill="#1a0e08" text-anchor="middle" textLength="30.5" lengthAdjust="spacingAndGlyphs">FLECHE</text>
<text x="415.35" y="306.65" font-size="9.2" font-weight="bold" fill="#0b4a12" text-anchor="middle" textLength="28" lengthAdjust="spacingAndGlyphs">ZENITH</text>
<text x="415.35" y="551.20" font-size="9.2" font-weight="bold" fill="#0b4a12" text-anchor="middle" textLength="28" lengthAdjust="spacingAndGlyphs">ZENITH</text>
<text x="561.98" y="163.30" font-size="9.2" stroke="#4a4500" stroke-width="0.3" fill="#4a4500" text-anchor="middle" textLength="38.5" lengthAdjust="spacingAndGlyphs">CHAMOIS</text>
<text x="561.98" y="530.20" font-size="9.2" stroke="#4a4500" stroke-width="0.3" fill="#4a4500" text-anchor="middle" textLength="38.5" lengthAdjust="spacingAndGlyphs">CHAMOIS</text>
<text x="659.60" y="245.25" font-size="9.2" stroke="#8a0e3a" stroke-width="0.3" fill="#8a0e3a" text-anchor="middle" textLength="31" lengthAdjust="spacingAndGlyphs">ZODIAC</text>
<text x="659.60" y="469.38" font-size="9.2" stroke="#8a0e3a" stroke-width="0.3" fill="#8a0e3a" text-anchor="middle" textLength="31" lengthAdjust="spacingAndGlyphs">ZODIAC</text>
<text x="826.95" y="121.80" font-size="9.2" stroke="#0a3470" stroke-width="0.3" fill="#0a3470" text-anchor="middle" textLength="37.5" lengthAdjust="spacingAndGlyphs">DIAMANT</text>
<text x="826.95" y="486.22" font-size="9.2" stroke="#0a3470" stroke-width="0.3" fill="#0a3470" text-anchor="middle" textLength="37.5" lengthAdjust="spacingAndGlyphs">DIAMANT</text>
<text x="401.3" y="408.3" font-size="9.8" fill="#2a2a2a" textLength="112.8" lengthAdjust="spacingAndGlyphs">GALERIE COMMERCIALE</text>
<text x="600" y="408.3" font-size="9.8" fill="#2a2a2a" textLength="41.7" lengthAdjust="spacingAndGlyphs">GARDIEN</text>
<text x="844" y="408.3" font-size="9.8" fill="#2a2a2a" textLength="16" lengthAdjust="spacingAndGlyphs">ESF</text>
<text x="396.5" y="571.0" font-size="9.8" fill="#2a2a2a" textLength="94.5" lengthAdjust="spacingAndGlyphs">ENTREE PRINCIPALE</text>
<g fill="none" stroke="#000" stroke-width="1.7" opacity="0.75">
<rect x="25.0" y="59.5" width="947.1" height="557.7"/>
<line x1="25.0" y1="106.5" x2="972.1" y2="106.5"/>
<line x1="25.0" y1="575.6" x2="972.1" y2="575.6"/>
<line x1="67.0" y1="59.5" x2="67.0" y2="617.2"/>
<line x1="931.5" y1="59.5" x2="931.5" y2="617.2"/>
<line x1="25.0" y1="126.95" x2="67.0" y2="126.95"/>
<line x1="931.50" y1="126.95" x2="972.1" y2="126.95"/>
<line x1="25.0" y1="147.40" x2="67.0" y2="147.40"/>
<line x1="931.50" y1="147.40" x2="972.1" y2="147.40"/>
<line x1="25.0" y1="167.85" x2="67.0" y2="167.85"/>
<line x1="931.50" y1="167.85" x2="972.1" y2="167.85"/>
<line x1="25.0" y1="188.30" x2="67.0" y2="188.30"/>
<line x1="931.50" y1="188.30" x2="972.1" y2="188.30"/>
<line x1="25.0" y1="208.75" x2="67.0" y2="208.75"/>
<line x1="931.50" y1="208.75" x2="972.1" y2="208.75"/>
<line x1="25.0" y1="229.15" x2="67.0" y2="229.15"/>
<line x1="931.50" y1="229.15" x2="972.1" y2="229.15"/>
<line x1="25.0" y1="249.55" x2="67.0" y2="249.55"/>
<line x1="931.50" y1="249.55" x2="972.1" y2="249.55"/>
<line x1="25.0" y1="269.95" x2="67.0" y2="269.95"/>
<line x1="931.50" y1="269.95" x2="972.1" y2="269.95"/>
<line x1="25.0" y1="290.35" x2="67.0" y2="290.35"/>
<line x1="931.50" y1="290.35" x2="972.1" y2="290.35"/>
<line x1="25.0" y1="310.75" x2="67.0" y2="310.75"/>
<line x1="931.50" y1="310.75" x2="972.1" y2="310.75"/>
<line x1="25.0" y1="331.12" x2="67.0" y2="331.12"/>
<line x1="931.50" y1="331.12" x2="972.1" y2="331.12"/>
<line x1="25.0" y1="351.49" x2="67.0" y2="351.49"/>
<line x1="931.50" y1="351.49" x2="972.1" y2="351.49"/>
<line x1="25.0" y1="371.86" x2="67.0" y2="371.86"/>
<line x1="931.50" y1="371.86" x2="972.1" y2="371.86"/>
<line x1="25.0" y1="392.23" x2="67.0" y2="392.23"/>
<line x1="931.50" y1="392.23" x2="972.1" y2="392.23"/>
<line x1="25.0" y1="412.60" x2="67.0" y2="412.60"/>
<line x1="931.50" y1="412.60" x2="972.1" y2="412.60"/>
<line x1="25.0" y1="432.94" x2="67.0" y2="432.94"/>
<line x1="931.50" y1="432.94" x2="972.1" y2="432.94"/>
<line x1="25.0" y1="453.28" x2="67.0" y2="453.28"/>
<line x1="931.50" y1="453.28" x2="972.1" y2="453.28"/>
<line x1="25.0" y1="473.62" x2="67.0" y2="473.62"/>
<line x1="931.50" y1="473.62" x2="972.1" y2="473.62"/>
<line x1="25.0" y1="493.96" x2="67.0" y2="493.96"/>
<line x1="931.50" y1="493.96" x2="972.1" y2="493.96"/>
<line x1="25.0" y1="514.30" x2="67.0" y2="514.30"/>
<line x1="931.50" y1="514.30" x2="972.1" y2="514.30"/>
<line x1="25.0" y1="534.80" x2="67.0" y2="534.80"/>
<line x1="931.50" y1="534.80" x2="972.1" y2="534.80"/>
</g>
<g fill="none" stroke="#000" stroke-width="1.4" opacity="0.72">
<line x1="80.91" y1="59.5" x2="80.91" y2="106.5"/>
<line x1="80.91" y1="575.6" x2="80.91" y2="617.2"/>
<line x1="94.82" y1="59.5" x2="94.82" y2="106.5"/>
<line x1="94.82" y1="575.6" x2="94.82" y2="617.2"/>
<line x1="108.73" y1="59.5" x2="108.73" y2="106.5"/>
<line x1="108.73" y1="575.6" x2="108.73" y2="617.2"/>
<line x1="122.64" y1="59.5" x2="122.64" y2="106.5"/>
<line x1="122.64" y1="575.6" x2="122.64" y2="617.2"/>
<line x1="136.55" y1="59.5" x2="136.55" y2="106.5"/>
<line x1="136.55" y1="575.6" x2="136.55" y2="617.2"/>
<line x1="150.46" y1="59.5" x2="150.46" y2="106.5"/>
<line x1="150.46" y1="575.6" x2="150.46" y2="617.2"/>
<line x1="164.37" y1="59.5" x2="164.37" y2="106.5"/>
<line x1="164.37" y1="575.6" x2="164.37" y2="617.2"/>
<line x1="178.28" y1="59.5" x2="178.28" y2="106.5"/>
<line x1="178.28" y1="575.6" x2="178.28" y2="617.2"/>
<line x1="192.19" y1="59.5" x2="192.19" y2="106.5"/>
<line x1="192.19" y1="575.6" x2="192.19" y2="617.2"/>
<line x1="206.10" y1="59.5" x2="206.10" y2="106.5"/>
<line x1="206.10" y1="575.6" x2="206.10" y2="617.2"/>
<line x1="220.04" y1="59.5" x2="220.04" y2="106.5"/>
<line x1="220.04" y1="575.6" x2="220.04" y2="617.2"/>
<line x1="233.98" y1="59.5" x2="233.98" y2="106.5"/>
<line x1="233.98" y1="575.6" x2="233.98" y2="617.2"/>
<line x1="247.92" y1="59.5" x2="247.92" y2="106.5"/>
<line x1="247.92" y1="575.6" x2="247.92" y2="617.2"/>
<line x1="261.86" y1="59.5" x2="261.86" y2="106.5"/>
<line x1="261.86" y1="575.6" x2="261.86" y2="617.2"/>
<line x1="275.80" y1="59.5" x2="275.80" y2="106.5"/>
<line x1="275.80" y1="575.6" x2="275.80" y2="617.2"/>
<line x1="289.74" y1="59.5" x2="289.74" y2="106.5"/>
<line x1="289.74" y1="575.6" x2="289.74" y2="617.2"/>
<line x1="303.68" y1="59.5" x2="303.68" y2="106.5"/>
<line x1="303.68" y1="575.6" x2="303.68" y2="617.2"/>
<line x1="317.62" y1="59.5" x2="317.62" y2="106.5"/>
<line x1="317.62" y1="575.6" x2="317.62" y2="617.2"/>
<line x1="331.56" y1="59.5" x2="331.56" y2="106.5"/>
<line x1="331.56" y1="575.6" x2="331.56" y2="617.2"/>
<line x1="345.50" y1="59.5" x2="345.50" y2="106.5"/>
<line x1="345.50" y1="575.6" x2="345.50" y2="617.2"/>
<line x1="359.47" y1="59.5" x2="359.47" y2="106.5"/>
<line x1="359.47" y1="575.6" x2="359.47" y2="617.2"/>
<line x1="373.44" y1="59.5" x2="373.44" y2="106.5"/>
<line x1="373.44" y1="575.6" x2="373.44" y2="617.2"/>
<line x1="387.41" y1="59.5" x2="387.41" y2="106.5"/>
<line x1="387.41" y1="575.6" x2="387.41" y2="617.2"/>
<line x1="401.38" y1="59.5" x2="401.38" y2="106.5"/>
<line x1="401.38" y1="575.6" x2="401.38" y2="617.2"/>
<line x1="415.35" y1="59.5" x2="415.35" y2="106.5"/>
<line x1="415.35" y1="575.6" x2="415.35" y2="617.2"/>
<line x1="429.32" y1="59.5" x2="429.32" y2="106.5"/>
<line x1="429.32" y1="575.6" x2="429.32" y2="617.2"/>
<line x1="443.29" y1="59.5" x2="443.29" y2="106.5"/>
<line x1="443.29" y1="575.6" x2="443.29" y2="617.2"/>
<line x1="457.26" y1="59.5" x2="457.26" y2="106.5"/>
<line x1="457.26" y1="575.6" x2="457.26" y2="617.2"/>
<line x1="471.23" y1="59.5" x2="471.23" y2="106.5"/>
<line x1="471.23" y1="575.6" x2="471.23" y2="617.2"/>
<line x1="485.20" y1="59.5" x2="485.20" y2="106.5"/>
<line x1="485.20" y1="575.6" x2="485.20" y2="617.2"/>
<line x1="499.16" y1="59.5" x2="499.16" y2="106.5"/>
<line x1="499.16" y1="575.6" x2="499.16" y2="617.2"/>
<line x1="513.12" y1="59.5" x2="513.12" y2="106.5"/>
<line x1="513.12" y1="575.6" x2="513.12" y2="617.2"/>
<line x1="527.08" y1="59.5" x2="527.08" y2="106.5"/>
<line x1="527.08" y1="575.6" x2="527.08" y2="617.2"/>
<line x1="541.04" y1="59.5" x2="541.04" y2="106.5"/>
<line x1="541.04" y1="575.6" x2="541.04" y2="617.2"/>
<line x1="555.00" y1="59.5" x2="555.00" y2="106.5"/>
<line x1="555.00" y1="575.6" x2="555.00" y2="617.2"/>
<line x1="568.96" y1="59.5" x2="568.96" y2="106.5"/>
<line x1="568.96" y1="575.6" x2="568.96" y2="617.2"/>
<line x1="582.92" y1="59.5" x2="582.92" y2="106.5"/>
<line x1="582.92" y1="575.6" x2="582.92" y2="617.2"/>
<line x1="596.88" y1="59.5" x2="596.88" y2="106.5"/>
<line x1="596.88" y1="575.6" x2="596.88" y2="617.2"/>
<line x1="610.84" y1="59.5" x2="610.84" y2="106.5"/>
<line x1="610.84" y1="575.6" x2="610.84" y2="617.2"/>
<line x1="624.80" y1="59.5" x2="624.80" y2="106.5"/>
<line x1="624.80" y1="575.6" x2="624.80" y2="617.2"/>
<line x1="638.72" y1="59.5" x2="638.72" y2="106.5"/>
<line x1="638.72" y1="575.6" x2="638.72" y2="617.2"/>
<line x1="652.64" y1="59.5" x2="652.64" y2="106.5"/>
<line x1="652.64" y1="575.6" x2="652.64" y2="617.2"/>
<line x1="666.56" y1="59.5" x2="666.56" y2="106.5"/>
<line x1="666.56" y1="575.6" x2="666.56" y2="617.2"/>
<line x1="680.48" y1="59.5" x2="680.48" y2="106.5"/>
<line x1="680.48" y1="575.6" x2="680.48" y2="617.2"/>
<line x1="694.40" y1="59.5" x2="694.40" y2="106.5"/>
<line x1="694.40" y1="575.6" x2="694.40" y2="617.2"/>
<line x1="708.32" y1="59.5" x2="708.32" y2="106.5"/>
<line x1="708.32" y1="575.6" x2="708.32" y2="617.2"/>
<line x1="722.24" y1="59.5" x2="722.24" y2="106.5"/>
<line x1="722.24" y1="575.6" x2="722.24" y2="617.2"/>
<line x1="736.16" y1="59.5" x2="736.16" y2="106.5"/>
<line x1="736.16" y1="575.6" x2="736.16" y2="617.2"/>
<line x1="750.08" y1="59.5" x2="750.08" y2="106.5"/>
<line x1="750.08" y1="575.6" x2="750.08" y2="617.2"/>
<line x1="764.00" y1="59.5" x2="764.00" y2="106.5"/>
<line x1="764.00" y1="575.6" x2="764.00" y2="617.2"/>
<line x1="777.99" y1="59.5" x2="777.99" y2="106.5"/>
<line x1="777.99" y1="575.6" x2="777.99" y2="617.2"/>
<line x1="791.98" y1="59.5" x2="791.98" y2="106.5"/>
<line x1="791.98" y1="575.6" x2="791.98" y2="617.2"/>
<line x1="805.97" y1="59.5" x2="805.97" y2="106.5"/>
<line x1="805.97" y1="575.6" x2="805.97" y2="617.2"/>
<line x1="819.96" y1="59.5" x2="819.96" y2="106.5"/>
<line x1="819.96" y1="575.6" x2="819.96" y2="617.2"/>
<line x1="833.95" y1="59.5" x2="833.95" y2="106.5"/>
<line x1="833.95" y1="575.6" x2="833.95" y2="617.2"/>
<line x1="847.94" y1="59.5" x2="847.94" y2="106.5"/>
<line x1="847.94" y1="575.6" x2="847.94" y2="617.2"/>
<line x1="861.93" y1="59.5" x2="861.93" y2="106.5"/>
<line x1="861.93" y1="575.6" x2="861.93" y2="617.2"/>
<line x1="875.92" y1="59.5" x2="875.92" y2="106.5"/>
<line x1="875.92" y1="575.6" x2="875.92" y2="617.2"/>
<line x1="889.91" y1="59.5" x2="889.91" y2="106.5"/>
<line x1="889.91" y1="575.6" x2="889.91" y2="617.2"/>
<line x1="903.90" y1="59.5" x2="903.90" y2="106.5"/>
<line x1="903.90" y1="575.6" x2="903.90" y2="617.2"/>
<line x1="917.70" y1="59.5" x2="917.70" y2="106.5"/>
<line x1="917.70" y1="575.6" x2="917.70" y2="617.2"/>
</g>
<text x="46.6" y="71.70" font-size="10.4" font-weight="bold" fill="#1c1c1c" text-anchor="middle" textLength="20.5" lengthAdjust="spacingAndGlyphs">Vue</text>
<text x="46.6" y="88.25" font-size="10.4" font-weight="bold" fill="#1c1c1c" text-anchor="middle" textLength="28.5" lengthAdjust="spacingAndGlyphs">Mont</text>
<text x="46.6" y="104.80" font-size="10.4" font-weight="bold" fill="#1c1c1c" text-anchor="middle" textLength="28.5" lengthAdjust="spacingAndGlyphs">Blanc</text>
<text x="952.4" y="71.70" font-size="10.4" font-weight="bold" fill="#1c1c1c" text-anchor="middle" textLength="20.5" lengthAdjust="spacingAndGlyphs">Vue</text>
<text x="952.4" y="88.25" font-size="10.4" font-weight="bold" fill="#1c1c1c" text-anchor="middle" textLength="28.5" lengthAdjust="spacingAndGlyphs">Mont</text>
<text x="952.4" y="104.80" font-size="10.4" font-weight="bold" fill="#1c1c1c" text-anchor="middle" textLength="28.5" lengthAdjust="spacingAndGlyphs">Blanc</text>
<text x="46.3" y="593.00" font-size="10.8" font-weight="bold" fill="#1c1c1c" text-anchor="middle" textLength="20.5" lengthAdjust="spacingAndGlyphs">Vue</text>
<text x="46.3" y="608.70" font-size="10.8" font-weight="bold" fill="#1c1c1c" text-anchor="middle" textLength="31" lengthAdjust="spacingAndGlyphs">Pistes</text>
<text x="951.7" y="593.00" font-size="10.8" font-weight="bold" fill="#1c1c1c" text-anchor="middle" textLength="20.5" lengthAdjust="spacingAndGlyphs">Vue</text>
<text x="951.7" y="608.70" font-size="10.8" font-weight="bold" fill="#1c1c1c" text-anchor="middle" textLength="31" lengthAdjust="spacingAndGlyphs">Pistes</text>
<text x="46.3" y="139.85" font-size="8.5" fill="#222" stroke="#222" stroke-width="0.2" text-anchor="middle">T</text>
<text x="933.9" y="143.05" font-size="8.5" fill="#222" stroke="#222" stroke-width="0.2">T</text>
<text x="46.3" y="160.30" font-size="8.5" fill="#222" stroke="#222" stroke-width="0.2" text-anchor="middle">S</text>
<text x="933.9" y="163.50" font-size="8.5" fill="#222" stroke="#222" stroke-width="0.2">S</text>
<text x="46.3" y="180.75" font-size="8.5" fill="#222" stroke="#222" stroke-width="0.2" text-anchor="middle">R</text>
<text x="933.9" y="183.95" font-size="8.5" fill="#222" stroke="#222" stroke-width="0.2">R</text>
<text x="46.3" y="201.20" font-size="8.5" fill="#222" stroke="#222" stroke-width="0.2" text-anchor="middle">Q</text>
<text x="933.9" y="204.40" font-size="8.5" fill="#222" stroke="#222" stroke-width="0.2">Q</text>
<text x="46.3" y="221.65" font-size="8.5" fill="#222" stroke="#222" stroke-width="0.2" text-anchor="middle">P</text>
<text x="933.9" y="224.85" font-size="8.5" fill="#222" stroke="#222" stroke-width="0.2">P</text>
<text x="46.3" y="242.05" font-size="8.5" fill="#222" stroke="#222" stroke-width="0.2" text-anchor="middle">O</text>
<text x="933.9" y="245.25" font-size="8.5" fill="#222" stroke="#222" stroke-width="0.2">O</text>
<text x="46.3" y="262.45" font-size="8.5" fill="#222" stroke="#222" stroke-width="0.2" text-anchor="middle">N</text>
<text x="933.9" y="265.65" font-size="8.5" fill="#222" stroke="#222" stroke-width="0.2">N</text>
<text x="46.3" y="282.85" font-size="8.5" fill="#222" stroke="#222" stroke-width="0.2" text-anchor="middle">M</text>
<text x="933.9" y="286.05" font-size="8.5" fill="#222" stroke="#222" stroke-width="0.2">M</text>
<text x="46.3" y="303.25" font-size="8.5" fill="#222" stroke="#222" stroke-width="0.2" text-anchor="middle">L</text>
<text x="933.9" y="306.45" font-size="8.5" fill="#222" stroke="#222" stroke-width="0.2">L</text>
<text x="46.3" y="323.65" font-size="8.5" fill="#222" stroke="#222" stroke-width="0.2" text-anchor="middle">K</text>
<text x="933.9" y="326.85" font-size="8.5" fill="#222" stroke="#222" stroke-width="0.2">K</text>
<text x="46.3" y="344.02" font-size="8.5" fill="#222" stroke="#222" stroke-width="0.2" text-anchor="middle">J</text>
<text x="933.9" y="347.22" font-size="8.5" fill="#222" stroke="#222" stroke-width="0.2">J</text>
<text x="46.3" y="364.39" font-size="8.5" fill="#222" stroke="#222" stroke-width="0.2" text-anchor="middle">I</text>
<text x="933.9" y="367.59" font-size="8.5" fill="#222" stroke="#222" stroke-width="0.2">I</text>
<text x="46.3" y="384.76" font-size="8.5" fill="#222" stroke="#222" stroke-width="0.2" text-anchor="middle">H</text>
<text x="933.9" y="387.96" font-size="8.5" fill="#222" stroke="#222" stroke-width="0.2">H</text>
<text x="46.3" y="405.13" font-size="8.5" fill="#222" stroke="#222" stroke-width="0.2" text-anchor="middle">G</text>
<text x="933.9" y="408.33" font-size="8.5" fill="#222" stroke="#222" stroke-width="0.2">G</text>
<text x="46.3" y="425.50" font-size="8.5" fill="#222" stroke="#222" stroke-width="0.2" text-anchor="middle">F</text>
<text x="933.9" y="428.70" font-size="8.5" fill="#222" stroke="#222" stroke-width="0.2">F</text>
<text x="46.3" y="445.84" font-size="8.5" fill="#222" stroke="#222" stroke-width="0.2" text-anchor="middle">E</text>
<text x="933.9" y="449.04" font-size="8.5" fill="#222" stroke="#222" stroke-width="0.2">E</text>
<text x="46.3" y="466.18" font-size="8.5" fill="#222" stroke="#222" stroke-width="0.2" text-anchor="middle">D</text>
<text x="933.9" y="469.38" font-size="8.5" fill="#222" stroke="#222" stroke-width="0.2">D</text>
<text x="46.3" y="486.52" font-size="8.5" fill="#222" stroke="#222" stroke-width="0.2" text-anchor="middle">C</text>
<text x="933.9" y="489.72" font-size="8.5" fill="#222" stroke="#222" stroke-width="0.2">C</text>
<text x="46.3" y="506.86" font-size="8.5" fill="#222" stroke="#222" stroke-width="0.2" text-anchor="middle">B</text>
<text x="933.9" y="510.06" font-size="8.5" fill="#222" stroke="#222" stroke-width="0.2">B</text>
<text x="46.3" y="527.20" font-size="8.5" fill="#222" stroke="#222" stroke-width="0.2" text-anchor="middle">A</text>
<text x="933.9" y="530.40" font-size="8.5" fill="#222" stroke="#222" stroke-width="0.2">A</text>
<text transform="translate(75.77,104.6) rotate(-90)" font-size="8.8" fill="#2a2a2a" stroke="#2a2a2a" stroke-width="0.2" letter-spacing="1.7">101</text>
<text transform="translate(74.57,615.2) rotate(-90)" font-size="7.6" fill="#2a2a2a" stroke="#2a2a2a" stroke-width="0.15" letter-spacing="2.4">1</text>
<text transform="translate(89.68,104.6) rotate(-90)" font-size="8.8" fill="#2a2a2a" stroke="#2a2a2a" stroke-width="0.2" letter-spacing="1.7">102</text>
<text transform="translate(88.48,615.2) rotate(-90)" font-size="7.6" fill="#2a2a2a" stroke="#2a2a2a" stroke-width="0.15" letter-spacing="2.4">2</text>
<text transform="translate(103.59,104.6) rotate(-90)" font-size="8.8" fill="#2a2a2a" stroke="#2a2a2a" stroke-width="0.2" letter-spacing="1.7">103</text>
<text transform="translate(102.39,615.2) rotate(-90)" font-size="7.6" fill="#2a2a2a" stroke="#2a2a2a" stroke-width="0.15" letter-spacing="2.4">3</text>
<text transform="translate(117.50,104.6) rotate(-90)" font-size="8.8" fill="#2a2a2a" stroke="#2a2a2a" stroke-width="0.2" letter-spacing="1.7">104</text>
<text transform="translate(116.30,615.2) rotate(-90)" font-size="7.6" fill="#2a2a2a" stroke="#2a2a2a" stroke-width="0.15" letter-spacing="2.4">4</text>
<text transform="translate(131.41,104.6) rotate(-90)" font-size="8.8" fill="#2a2a2a" stroke="#2a2a2a" stroke-width="0.2" letter-spacing="1.7">105</text>
<text transform="translate(130.21,615.2) rotate(-90)" font-size="7.6" fill="#2a2a2a" stroke="#2a2a2a" stroke-width="0.15" letter-spacing="2.4">5</text>
<text transform="translate(145.32,104.6) rotate(-90)" font-size="8.8" fill="#2a2a2a" stroke="#2a2a2a" stroke-width="0.2" letter-spacing="1.7">106</text>
<text transform="translate(144.12,615.2) rotate(-90)" font-size="7.6" fill="#2a2a2a" stroke="#2a2a2a" stroke-width="0.15" letter-spacing="2.4">6</text>
<text transform="translate(159.23,104.6) rotate(-90)" font-size="8.8" fill="#2a2a2a" stroke="#2a2a2a" stroke-width="0.2" letter-spacing="1.7">107</text>
<text transform="translate(158.03,615.2) rotate(-90)" font-size="7.6" fill="#2a2a2a" stroke="#2a2a2a" stroke-width="0.15" letter-spacing="2.4">7</text>
<text transform="translate(173.14,104.6) rotate(-90)" font-size="8.8" fill="#2a2a2a" stroke="#2a2a2a" stroke-width="0.2" letter-spacing="1.7">108</text>
<text transform="translate(171.94,615.2) rotate(-90)" font-size="7.6" fill="#2a2a2a" stroke="#2a2a2a" stroke-width="0.15" letter-spacing="2.4">8</text>
<text transform="translate(187.05,104.6) rotate(-90)" font-size="8.8" fill="#2a2a2a" stroke="#2a2a2a" stroke-width="0.2" letter-spacing="1.7">109</text>
<text transform="translate(185.85,615.2) rotate(-90)" font-size="7.6" fill="#2a2a2a" stroke="#2a2a2a" stroke-width="0.15" letter-spacing="2.4">9</text>
<text transform="translate(200.96,104.6) rotate(-90)" font-size="8.8" fill="#2a2a2a" stroke="#2a2a2a" stroke-width="0.2" letter-spacing="1.7">110</text>
<text transform="translate(199.76,615.2) rotate(-90)" font-size="7.6" fill="#2a2a2a" stroke="#2a2a2a" stroke-width="0.15" letter-spacing="2.4">10</text>
<text transform="translate(214.87,104.6) rotate(-90)" font-size="8.8" fill="#2a2a2a" stroke="#2a2a2a" stroke-width="0.2" letter-spacing="1.7">111</text>
<text transform="translate(213.67,615.2) rotate(-90)" font-size="7.6" fill="#2a2a2a" stroke="#2a2a2a" stroke-width="0.15" letter-spacing="2.4">11</text>
<text transform="translate(228.81,104.6) rotate(-90)" font-size="8.8" fill="#2a2a2a" stroke="#2a2a2a" stroke-width="0.2" letter-spacing="1.7">112</text>
<text transform="translate(227.61,615.2) rotate(-90)" font-size="7.6" fill="#2a2a2a" stroke="#2a2a2a" stroke-width="0.15" letter-spacing="2.4">12</text>
<text transform="translate(242.75,104.6) rotate(-90)" font-size="8.8" fill="#2a2a2a" stroke="#2a2a2a" stroke-width="0.2" letter-spacing="1.7">113</text>
<text transform="translate(241.55,615.2) rotate(-90)" font-size="7.6" fill="#2a2a2a" stroke="#2a2a2a" stroke-width="0.15" letter-spacing="2.4">13</text>
<text transform="translate(256.69,104.6) rotate(-90)" font-size="8.8" fill="#2a2a2a" stroke="#2a2a2a" stroke-width="0.2" letter-spacing="1.7">114</text>
<text transform="translate(255.49,615.2) rotate(-90)" font-size="7.6" fill="#2a2a2a" stroke="#2a2a2a" stroke-width="0.15" letter-spacing="2.4">14</text>
<text transform="translate(270.63,104.6) rotate(-90)" font-size="8.8" fill="#2a2a2a" stroke="#2a2a2a" stroke-width="0.2" letter-spacing="1.7">115</text>
<text transform="translate(269.43,615.2) rotate(-90)" font-size="7.6" fill="#2a2a2a" stroke="#2a2a2a" stroke-width="0.15" letter-spacing="2.4">15</text>
<text transform="translate(284.57,104.6) rotate(-90)" font-size="8.8" fill="#2a2a2a" stroke="#2a2a2a" stroke-width="0.2" letter-spacing="1.7">116</text>
<text transform="translate(283.37,615.2) rotate(-90)" font-size="7.6" fill="#2a2a2a" stroke="#2a2a2a" stroke-width="0.15" letter-spacing="2.4">16</text>
<text transform="translate(298.51,104.6) rotate(-90)" font-size="8.8" fill="#2a2a2a" stroke="#2a2a2a" stroke-width="0.2" letter-spacing="1.7">117</text>
<text transform="translate(297.31,615.2) rotate(-90)" font-size="7.6" fill="#2a2a2a" stroke="#2a2a2a" stroke-width="0.15" letter-spacing="2.4">17</text>
<text transform="translate(312.45,104.6) rotate(-90)" font-size="8.8" fill="#2a2a2a" stroke="#2a2a2a" stroke-width="0.2" letter-spacing="1.7">118</text>
<text transform="translate(311.25,615.2) rotate(-90)" font-size="7.6" fill="#2a2a2a" stroke="#2a2a2a" stroke-width="0.15" letter-spacing="2.4">18</text>
<text transform="translate(326.39,104.6) rotate(-90)" font-size="8.8" fill="#2a2a2a" stroke="#2a2a2a" stroke-width="0.2" letter-spacing="1.7">119</text>
<text transform="translate(325.19,615.2) rotate(-90)" font-size="7.6" fill="#2a2a2a" stroke="#2a2a2a" stroke-width="0.15" letter-spacing="2.4">19</text>
<text transform="translate(340.33,104.6) rotate(-90)" font-size="8.8" fill="#2a2a2a" stroke="#2a2a2a" stroke-width="0.2" letter-spacing="1.7">120</text>
<text transform="translate(339.13,615.2) rotate(-90)" font-size="7.6" fill="#2a2a2a" stroke="#2a2a2a" stroke-width="0.15" letter-spacing="2.4">20</text>
<text transform="translate(354.27,104.6) rotate(-90)" font-size="8.8" fill="#2a2a2a" stroke="#2a2a2a" stroke-width="0.2" letter-spacing="1.7">121</text>
<text transform="translate(353.07,615.2) rotate(-90)" font-size="7.6" fill="#2a2a2a" stroke="#2a2a2a" stroke-width="0.15" letter-spacing="2.4">21</text>
<text transform="translate(368.24,104.6) rotate(-90)" font-size="8.8" fill="#2a2a2a" stroke="#2a2a2a" stroke-width="0.2" letter-spacing="1.7">122</text>
<text transform="translate(367.04,615.2) rotate(-90)" font-size="7.6" fill="#2a2a2a" stroke="#2a2a2a" stroke-width="0.15" letter-spacing="2.4">22</text>
<text transform="translate(382.21,104.6) rotate(-90)" font-size="8.8" fill="#2a2a2a" stroke="#2a2a2a" stroke-width="0.2" letter-spacing="1.7">123</text>
<text transform="translate(381.01,615.2) rotate(-90)" font-size="7.6" fill="#2a2a2a" stroke="#2a2a2a" stroke-width="0.15" letter-spacing="2.4">23</text>
<text transform="translate(396.18,104.6) rotate(-90)" font-size="8.8" fill="#2a2a2a" stroke="#2a2a2a" stroke-width="0.2" letter-spacing="1.7">124</text>
<text transform="translate(394.98,615.2) rotate(-90)" font-size="7.6" fill="#2a2a2a" stroke="#2a2a2a" stroke-width="0.15" letter-spacing="2.4">24</text>
<text transform="translate(410.15,104.6) rotate(-90)" font-size="8.8" fill="#2a2a2a" stroke="#2a2a2a" stroke-width="0.2" letter-spacing="1.7">125</text>
<text transform="translate(408.95,615.2) rotate(-90)" font-size="7.6" fill="#2a2a2a" stroke="#2a2a2a" stroke-width="0.15" letter-spacing="2.4">25</text>
<text transform="translate(424.12,104.6) rotate(-90)" font-size="8.8" fill="#2a2a2a" stroke="#2a2a2a" stroke-width="0.2" letter-spacing="1.7">126</text>
<text transform="translate(422.92,615.2) rotate(-90)" font-size="7.6" fill="#2a2a2a" stroke="#2a2a2a" stroke-width="0.15" letter-spacing="2.4">26</text>
<text transform="translate(438.09,104.6) rotate(-90)" font-size="8.8" fill="#2a2a2a" stroke="#2a2a2a" stroke-width="0.2" letter-spacing="1.7">127</text>
<text transform="translate(436.89,615.2) rotate(-90)" font-size="7.6" fill="#2a2a2a" stroke="#2a2a2a" stroke-width="0.15" letter-spacing="2.4">27</text>
<text transform="translate(452.06,104.6) rotate(-90)" font-size="8.8" fill="#2a2a2a" stroke="#2a2a2a" stroke-width="0.2" letter-spacing="1.7">128</text>
<text transform="translate(450.86,615.2) rotate(-90)" font-size="7.6" fill="#2a2a2a" stroke="#2a2a2a" stroke-width="0.15" letter-spacing="2.4">28</text>
<text transform="translate(466.03,104.6) rotate(-90)" font-size="8.8" fill="#2a2a2a" stroke="#2a2a2a" stroke-width="0.2" letter-spacing="1.7">129</text>
<text transform="translate(464.83,615.2) rotate(-90)" font-size="7.6" fill="#2a2a2a" stroke="#2a2a2a" stroke-width="0.15" letter-spacing="2.4">29</text>
<text transform="translate(480.00,104.6) rotate(-90)" font-size="8.8" fill="#2a2a2a" stroke="#2a2a2a" stroke-width="0.2" letter-spacing="1.7">130</text>
<text transform="translate(478.80,615.2) rotate(-90)" font-size="7.6" fill="#2a2a2a" stroke="#2a2a2a" stroke-width="0.15" letter-spacing="2.4">30</text>
<text transform="translate(493.97,104.6) rotate(-90)" font-size="8.8" fill="#2a2a2a" stroke="#2a2a2a" stroke-width="0.2" letter-spacing="1.7">131</text>
<text transform="translate(492.77,615.2) rotate(-90)" font-size="7.6" fill="#2a2a2a" stroke="#2a2a2a" stroke-width="0.15" letter-spacing="2.4">31</text>
<text transform="translate(507.93,104.6) rotate(-90)" font-size="8.8" fill="#2a2a2a" stroke="#2a2a2a" stroke-width="0.2" letter-spacing="1.7">132</text>
<text transform="translate(506.73,615.2) rotate(-90)" font-size="7.6" fill="#2a2a2a" stroke="#2a2a2a" stroke-width="0.15" letter-spacing="2.4">32</text>
<text transform="translate(521.89,104.6) rotate(-90)" font-size="8.8" fill="#2a2a2a" stroke="#2a2a2a" stroke-width="0.2" letter-spacing="1.7">133</text>
<text transform="translate(520.69,615.2) rotate(-90)" font-size="7.6" fill="#2a2a2a" stroke="#2a2a2a" stroke-width="0.15" letter-spacing="2.4">33</text>
<text transform="translate(535.85,104.6) rotate(-90)" font-size="8.8" fill="#2a2a2a" stroke="#2a2a2a" stroke-width="0.2" letter-spacing="1.7">134</text>
<text transform="translate(534.65,615.2) rotate(-90)" font-size="7.6" fill="#2a2a2a" stroke="#2a2a2a" stroke-width="0.15" letter-spacing="2.4">34</text>
<text transform="translate(549.81,104.6) rotate(-90)" font-size="8.8" fill="#2a2a2a" stroke="#2a2a2a" stroke-width="0.2" letter-spacing="1.7">135</text>
<text transform="translate(548.61,615.2) rotate(-90)" font-size="7.6" fill="#2a2a2a" stroke="#2a2a2a" stroke-width="0.15" letter-spacing="2.4">35</text>
<text transform="translate(563.77,104.6) rotate(-90)" font-size="8.8" fill="#2a2a2a" stroke="#2a2a2a" stroke-width="0.2" letter-spacing="1.7">136</text>
<text transform="translate(562.57,615.2) rotate(-90)" font-size="7.6" fill="#2a2a2a" stroke="#2a2a2a" stroke-width="0.15" letter-spacing="2.4">36</text>
<text transform="translate(577.73,104.6) rotate(-90)" font-size="8.8" fill="#2a2a2a" stroke="#2a2a2a" stroke-width="0.2" letter-spacing="1.7">137</text>
<text transform="translate(576.53,615.2) rotate(-90)" font-size="7.6" fill="#2a2a2a" stroke="#2a2a2a" stroke-width="0.15" letter-spacing="2.4">37</text>
<text transform="translate(591.69,104.6) rotate(-90)" font-size="8.8" fill="#2a2a2a" stroke="#2a2a2a" stroke-width="0.2" letter-spacing="1.7">138</text>
<text transform="translate(590.49,615.2) rotate(-90)" font-size="7.6" fill="#2a2a2a" stroke="#2a2a2a" stroke-width="0.15" letter-spacing="2.4">38</text>
<text transform="translate(605.65,104.6) rotate(-90)" font-size="8.8" fill="#2a2a2a" stroke="#2a2a2a" stroke-width="0.2" letter-spacing="1.7">139</text>
<text transform="translate(604.45,615.2) rotate(-90)" font-size="7.6" fill="#2a2a2a" stroke="#2a2a2a" stroke-width="0.15" letter-spacing="2.4">39</text>
<text transform="translate(619.61,104.6) rotate(-90)" font-size="8.8" fill="#2a2a2a" stroke="#2a2a2a" stroke-width="0.2" letter-spacing="1.7">140</text>
<text transform="translate(618.41,615.2) rotate(-90)" font-size="7.6" fill="#2a2a2a" stroke="#2a2a2a" stroke-width="0.15" letter-spacing="2.4">40</text>
<text transform="translate(633.57,104.6) rotate(-90)" font-size="8.8" fill="#2a2a2a" stroke="#2a2a2a" stroke-width="0.2" letter-spacing="1.7">141</text>
<text transform="translate(632.37,615.2) rotate(-90)" font-size="7.6" fill="#2a2a2a" stroke="#2a2a2a" stroke-width="0.15" letter-spacing="2.4">41</text>
<text transform="translate(647.49,104.6) rotate(-90)" font-size="8.8" fill="#2a2a2a" stroke="#2a2a2a" stroke-width="0.2" letter-spacing="1.7">142</text>
<text transform="translate(646.29,615.2) rotate(-90)" font-size="7.6" fill="#2a2a2a" stroke="#2a2a2a" stroke-width="0.15" letter-spacing="2.4">42</text>
<text transform="translate(675.33,104.6) rotate(-90)" font-size="8.8" fill="#2a2a2a" stroke="#2a2a2a" stroke-width="0.2" letter-spacing="1.7">143</text>
<text transform="translate(674.13,615.2) rotate(-90)" font-size="7.6" fill="#2a2a2a" stroke="#2a2a2a" stroke-width="0.15" letter-spacing="2.4">43</text>
<text transform="translate(689.25,104.6) rotate(-90)" font-size="8.8" fill="#2a2a2a" stroke="#2a2a2a" stroke-width="0.2" letter-spacing="1.7">144</text>
<text transform="translate(688.05,615.2) rotate(-90)" font-size="7.6" fill="#2a2a2a" stroke="#2a2a2a" stroke-width="0.15" letter-spacing="2.4">44</text>
<text transform="translate(703.17,104.6) rotate(-90)" font-size="8.8" fill="#2a2a2a" stroke="#2a2a2a" stroke-width="0.2" letter-spacing="1.7">145</text>
<text transform="translate(701.97,615.2) rotate(-90)" font-size="7.6" fill="#2a2a2a" stroke="#2a2a2a" stroke-width="0.15" letter-spacing="2.4">45</text>
<text transform="translate(717.09,104.6) rotate(-90)" font-size="8.8" fill="#2a2a2a" stroke="#2a2a2a" stroke-width="0.2" letter-spacing="1.7">146</text>
<text transform="translate(715.89,615.2) rotate(-90)" font-size="7.6" fill="#2a2a2a" stroke="#2a2a2a" stroke-width="0.15" letter-spacing="2.4">46</text>
<text transform="translate(731.01,104.6) rotate(-90)" font-size="8.8" fill="#2a2a2a" stroke="#2a2a2a" stroke-width="0.2" letter-spacing="1.7">147</text>
<text transform="translate(729.81,615.2) rotate(-90)" font-size="7.6" fill="#2a2a2a" stroke="#2a2a2a" stroke-width="0.15" letter-spacing="2.4">47</text>
<text transform="translate(744.93,104.6) rotate(-90)" font-size="8.8" fill="#2a2a2a" stroke="#2a2a2a" stroke-width="0.2" letter-spacing="1.7">148</text>
<text transform="translate(743.73,615.2) rotate(-90)" font-size="7.6" fill="#2a2a2a" stroke="#2a2a2a" stroke-width="0.15" letter-spacing="2.4">48</text>
<text transform="translate(758.85,104.6) rotate(-90)" font-size="8.8" fill="#2a2a2a" stroke="#2a2a2a" stroke-width="0.2" letter-spacing="1.7">149</text>
<text transform="translate(757.65,615.2) rotate(-90)" font-size="7.6" fill="#2a2a2a" stroke="#2a2a2a" stroke-width="0.15" letter-spacing="2.4">49</text>
<text transform="translate(772.77,104.6) rotate(-90)" font-size="8.8" fill="#2a2a2a" stroke="#2a2a2a" stroke-width="0.2" letter-spacing="1.7">150</text>
<text transform="translate(771.57,615.2) rotate(-90)" font-size="7.6" fill="#2a2a2a" stroke="#2a2a2a" stroke-width="0.15" letter-spacing="2.4">50</text>
<text transform="translate(786.76,104.6) rotate(-90)" font-size="8.8" fill="#2a2a2a" stroke="#2a2a2a" stroke-width="0.2" letter-spacing="1.7">151</text>
<text transform="translate(785.56,615.2) rotate(-90)" font-size="7.6" fill="#2a2a2a" stroke="#2a2a2a" stroke-width="0.15" letter-spacing="2.4">51</text>
<text transform="translate(800.75,104.6) rotate(-90)" font-size="8.8" fill="#2a2a2a" stroke="#2a2a2a" stroke-width="0.2" letter-spacing="1.7">152</text>
<text transform="translate(799.55,615.2) rotate(-90)" font-size="7.6" fill="#2a2a2a" stroke="#2a2a2a" stroke-width="0.15" letter-spacing="2.4">52</text>
<text transform="translate(814.74,104.6) rotate(-90)" font-size="8.8" fill="#2a2a2a" stroke="#2a2a2a" stroke-width="0.2" letter-spacing="1.7">153</text>
<text transform="translate(813.54,615.2) rotate(-90)" font-size="7.6" fill="#2a2a2a" stroke="#2a2a2a" stroke-width="0.15" letter-spacing="2.4">53</text>
<text transform="translate(828.73,104.6) rotate(-90)" font-size="8.8" fill="#2a2a2a" stroke="#2a2a2a" stroke-width="0.2" letter-spacing="1.7">154</text>
<text transform="translate(827.53,615.2) rotate(-90)" font-size="7.6" fill="#2a2a2a" stroke="#2a2a2a" stroke-width="0.15" letter-spacing="2.4">54</text>
<text transform="translate(842.72,104.6) rotate(-90)" font-size="8.8" fill="#2a2a2a" stroke="#2a2a2a" stroke-width="0.2" letter-spacing="1.7">155</text>
<text transform="translate(841.52,615.2) rotate(-90)" font-size="7.6" fill="#2a2a2a" stroke="#2a2a2a" stroke-width="0.15" letter-spacing="2.4">55</text>
<text transform="translate(856.71,104.6) rotate(-90)" font-size="8.8" fill="#2a2a2a" stroke="#2a2a2a" stroke-width="0.2" letter-spacing="1.7">156</text>
<text transform="translate(855.51,615.2) rotate(-90)" font-size="7.6" fill="#2a2a2a" stroke="#2a2a2a" stroke-width="0.15" letter-spacing="2.4">56</text>
<text transform="translate(870.70,104.6) rotate(-90)" font-size="8.8" fill="#2a2a2a" stroke="#2a2a2a" stroke-width="0.2" letter-spacing="1.7">157</text>
<text transform="translate(869.50,615.2) rotate(-90)" font-size="7.6" fill="#2a2a2a" stroke="#2a2a2a" stroke-width="0.15" letter-spacing="2.4">57</text>
<text transform="translate(884.69,104.6) rotate(-90)" font-size="8.8" fill="#2a2a2a" stroke="#2a2a2a" stroke-width="0.2" letter-spacing="1.7">158</text>
<text transform="translate(883.49,615.2) rotate(-90)" font-size="7.6" fill="#2a2a2a" stroke="#2a2a2a" stroke-width="0.15" letter-spacing="2.4">58</text>
<text transform="translate(898.68,104.6) rotate(-90)" font-size="8.8" fill="#2a2a2a" stroke="#2a2a2a" stroke-width="0.2" letter-spacing="1.7">159</text>
<text transform="translate(897.48,615.2) rotate(-90)" font-size="7.6" fill="#2a2a2a" stroke="#2a2a2a" stroke-width="0.15" letter-spacing="2.4">59</text>
<text transform="translate(912.67,104.6) rotate(-90)" font-size="8.8" fill="#2a2a2a" stroke="#2a2a2a" stroke-width="0.2" letter-spacing="1.7">160</text>
<text transform="translate(911.47,615.2) rotate(-90)" font-size="7.6" fill="#2a2a2a" stroke="#2a2a2a" stroke-width="0.15" letter-spacing="2.4">60</text>
<text transform="translate(926.47,104.6) rotate(-90)" font-size="8.8" fill="#2a2a2a" stroke="#2a2a2a" stroke-width="0.2" letter-spacing="1.7">161</text>
<text transform="translate(925.27,615.2) rotate(-90)" font-size="7.6" fill="#2a2a2a" stroke="#2a2a2a" stroke-width="0.15" letter-spacing="2.4">61</text>
</g>
<rect x="67" y="633" width="152.6" height="20.4" fill="#F26E30"/>
<text x="77" y="650" font-size="9" fill="#7a2a0c" stroke="#7a2a0c" stroke-width="0.2" textLength="115" lengthAdjust="spacingAndGlyphs">ETOILE: au fond de la galerie</text>
<rect x="67" y="675" width="152.6" height="19.6" fill="#653327"/>
<text x="82" y="690.5" font-size="9" fill="#1e0f08" stroke="#1e0f08" stroke-width="0.2" textLength="110.4" lengthAdjust="spacingAndGlyphs">FLECHE : En face du coiffeur</text>
<rect x="317.4" y="634" width="236.9" height="20.4" fill="#47C656"/>
<text x="329.4" y="649.5" font-size="9" fill="#0b2a10" stroke="#0b2a10" stroke-width="0.2" textLength="184.9" lengthAdjust="spacingAndGlyphs">ZENITH : En face du Restaurant Le Mont Blanc</text>
<rect x="359.4" y="675.4" width="153.4" height="20.2" fill="#FAF800"/>
<text x="368.6" y="690.5" font-size="9" fill="#3a3000" stroke="#3a3000" stroke-width="0.2" textLength="116.8" lengthAdjust="spacingAndGlyphs">CHAMOIS : A côte du gardien</text>
<rect x="652.5" y="634.9" width="208.8" height="19.9" fill="#EE306C"/>
<text x="665.2" y="651" font-size="9" fill="#5a0a20" stroke="#5a0a20" stroke-width="0.2" textLength="161.5" lengthAdjust="spacingAndGlyphs">ZODIAC : A côté du restaurant l'Arlequin</text>
<rect x="680.8" y="676.4" width="138.7" height="18.7" fill="#2587E0"/>
<text x="691.6" y="692" font-size="9" fill="#0a2540" stroke="#0a2540" stroke-width="0.2" textLength="108" lengthAdjust="spacingAndGlyphs">DIAMANT : En face de l'ESF</text>
<text x="13" y="15" font-size="10.6" fill="#ffffff" fill-opacity="0.16" stroke="#000" stroke-opacity="0.05" stroke-width="0.6" textLength="68" lengthAdjust="spacingAndGlyphs">ALP AGENCE</text>
<text x="259" y="56" font-size="10.6" fill="#ffffff" fill-opacity="0.16" stroke="#000" stroke-opacity="0.05" stroke-width="0.6" textLength="68" lengthAdjust="spacingAndGlyphs">ALP AGENCE</text>
<text x="13" y="180" font-size="10.6" fill="#ffffff" fill-opacity="0.16" stroke="#000" stroke-opacity="0.05" stroke-width="0.6" textLength="68" lengthAdjust="spacingAndGlyphs">ALP AGENCE</text>
<text x="260" y="220" font-size="10.6" fill="#ffffff" fill-opacity="0.16" stroke="#000" stroke-opacity="0.05" stroke-width="0.6" textLength="68" lengthAdjust="spacingAndGlyphs">ALP AGENCE</text>
<text x="752" y="138" font-size="10.6" fill="#ffffff" fill-opacity="0.16" stroke="#000" stroke-opacity="0.05" stroke-width="0.6" textLength="68" lengthAdjust="spacingAndGlyphs">ALP AGENCE</text>
<text x="13" y="341" font-size="10.6" fill="#ffffff" fill-opacity="0.16" stroke="#000" stroke-opacity="0.05" stroke-width="0.6" textLength="68" lengthAdjust="spacingAndGlyphs">ALP AGENCE</text>
<text x="260" y="383" font-size="10.6" fill="#ffffff" fill-opacity="0.16" stroke="#000" stroke-opacity="0.05" stroke-width="0.6" textLength="68" lengthAdjust="spacingAndGlyphs">ALP AGENCE</text>
<text x="505" y="261" font-size="10.6" fill="#ffffff" fill-opacity="0.16" stroke="#000" stroke-opacity="0.05" stroke-width="0.6" textLength="68" lengthAdjust="spacingAndGlyphs">ALP AGENCE</text>
<text x="13" y="506" font-size="10.6" fill="#ffffff" fill-opacity="0.16" stroke="#000" stroke-opacity="0.05" stroke-width="0.6" textLength="68" lengthAdjust="spacingAndGlyphs">ALP AGENCE</text>
<text x="260" y="548" font-size="10.6" fill="#ffffff" fill-opacity="0.16" stroke="#000" stroke-opacity="0.05" stroke-width="0.6" textLength="68" lengthAdjust="spacingAndGlyphs">ALP AGENCE</text>
<text x="752" y="466" font-size="10.6" fill="#ffffff" fill-opacity="0.16" stroke="#000" stroke-opacity="0.05" stroke-width="0.6" textLength="68" lengthAdjust="spacingAndGlyphs">ALP AGENCE</text>
<text x="505" y="588" font-size="10.6" fill="#ffffff" fill-opacity="0.16" stroke="#000" stroke-opacity="0.05" stroke-width="0.6" textLength="68" lengthAdjust="spacingAndGlyphs">ALP AGENCE</text>
<text x="752" y="630" font-size="10.6" fill="#ffffff" fill-opacity="0.16" stroke="#000" stroke-opacity="0.05" stroke-width="0.6" textLength="68" lengthAdjust="spacingAndGlyphs">ALP AGENCE</text>
<text x="13" y="671" font-size="10.6" fill="#ffffff" fill-opacity="0.16" stroke="#000" stroke-opacity="0.05" stroke-width="0.6" textLength="68" lengthAdjust="spacingAndGlyphs">ALP AGENCE</text>
<text x="260" y="710" font-size="10.6" fill="#ffffff" fill-opacity="0.16" stroke="#000" stroke-opacity="0.05" stroke-width="0.6" textLength="68" lengthAdjust="spacingAndGlyphs">ALP AGENCE</text>
<text x="505" y="425" font-size="10.6" fill="#ffffff" fill-opacity="0.16" stroke="#000" stroke-opacity="0.05" stroke-width="0.6" textLength="68" lengthAdjust="spacingAndGlyphs">ALP AGENCE</text>
</svg></body></html>
